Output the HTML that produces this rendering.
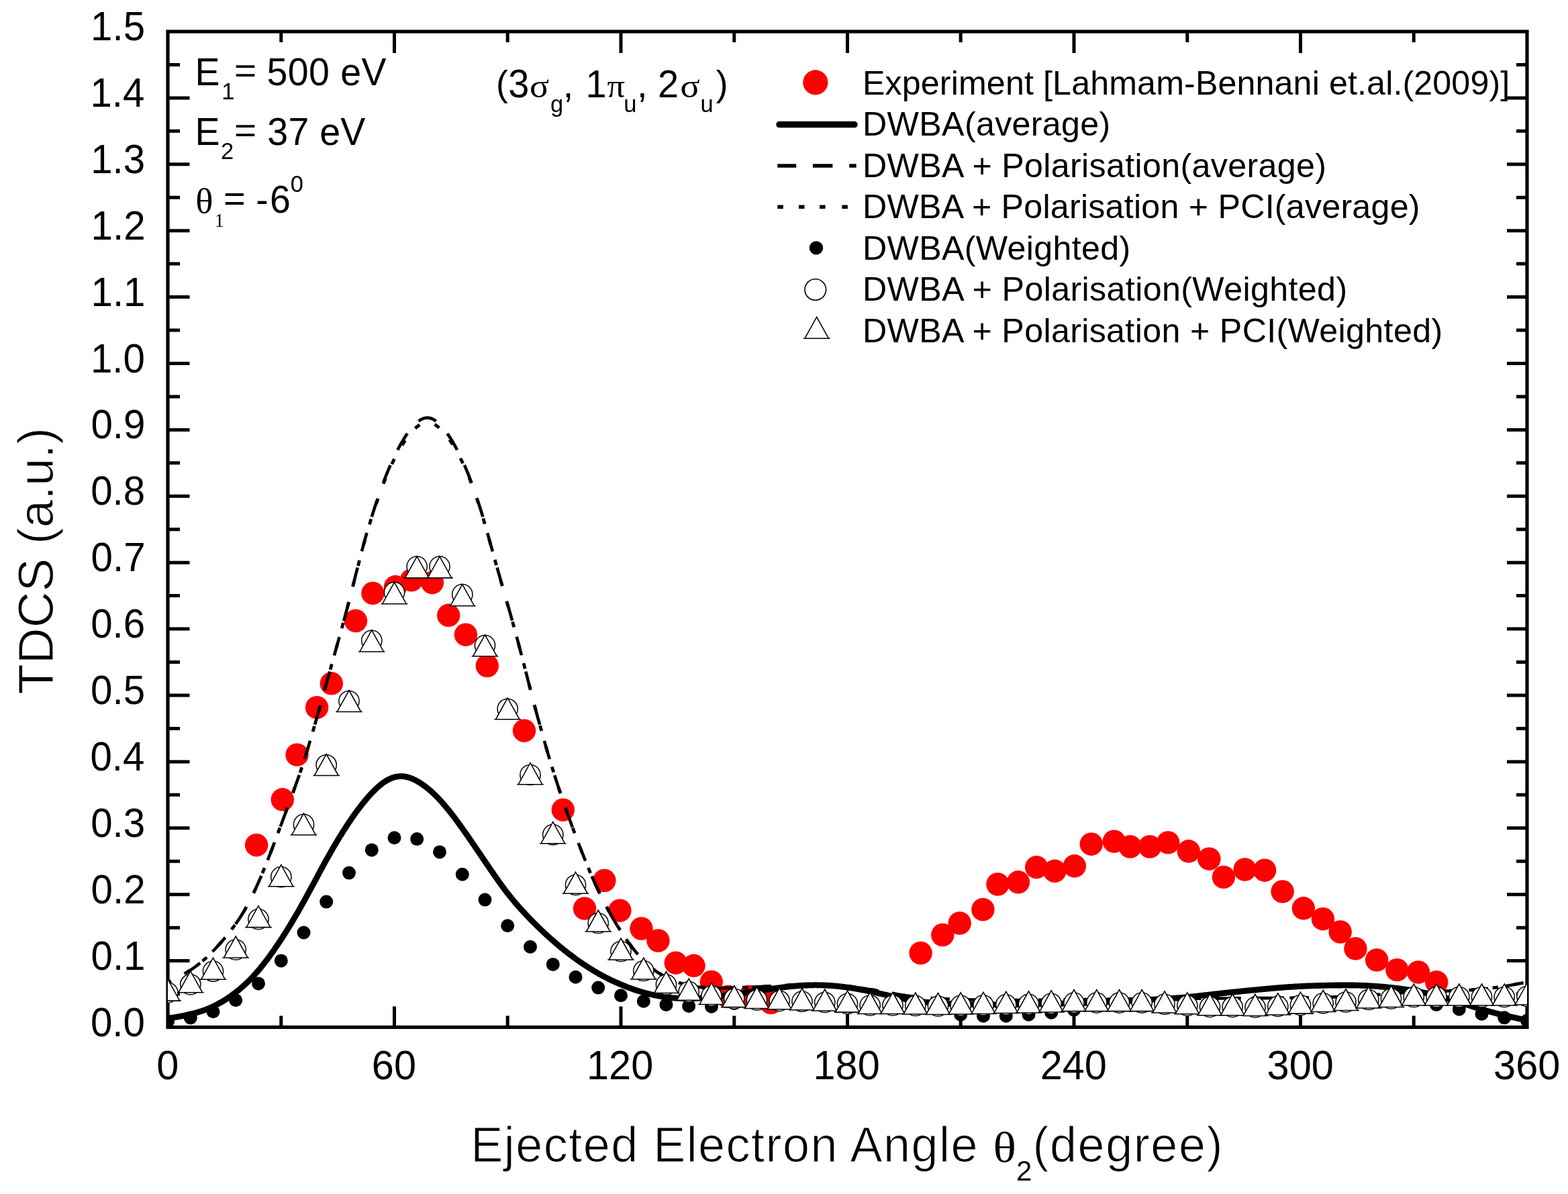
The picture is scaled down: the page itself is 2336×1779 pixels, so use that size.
<!DOCTYPE html><html><head><meta charset="utf-8"><title>TDCS vs ejected electron angle</title><style>html,body{margin:0;padding:0;background:#fff;overflow:hidden;}svg{display:block;}text{font-family:"Liberation Sans",Arial,Helvetica,sans-serif;fill:#000;}.sy{font-family:"Liberation Serif","Times New Roman",serif;}</style></head><body>
<svg width="2336" height="1779" viewBox="0 0 2336 1779">
<rect width="2336" height="1779" fill="#fff"/>
<defs><clipPath id="pc"><rect x="250.0" y="47.0" width="2025.0" height="1483.5"/></clipPath></defs>
<rect x="250.0" y="47.0" width="2025.0" height="1483.5" fill="none" stroke="#000" stroke-width="5.2"/>
<path d="M418.8 1530.5V1513.5M418.8 47V63M587.5 1530.5V1499.5M587.5 47V79M756.2 1530.5V1513.5M756.2 47V63M925 1530.5V1499.5M925 47V79M1093.8 1530.5V1513.5M1093.8 47V63M1262.5 1530.5V1499.5M1262.5 47V79M1431.2 1530.5V1513.5M1431.2 47V63M1600 1530.5V1499.5M1600 47V79M1768.8 1530.5V1513.5M1768.8 47V63M1937.5 1530.5V1499.5M1937.5 47V79M2106.2 1530.5V1513.5M2106.2 47V63M250 1481H268M2275 1481H2259M250 1431.6H282.5M2275 1431.6H2245M250 1382.2H268M2275 1382.2H2259M250 1332.7H282.5M2275 1332.7H2245M250 1283.2H268M2275 1283.2H2259M250 1233.8H282.5M2275 1233.8H2245M250 1184.3H268M2275 1184.3H2259M250 1134.9H282.5M2275 1134.9H2245M250 1085.5H268M2275 1085.5H2259M250 1036H282.5M2275 1036H2245M250 986.5H268M2275 986.5H2259M250 937.1H282.5M2275 937.1H2245M250 887.6H268M2275 887.6H2259M250 838.2H282.5M2275 838.2H2245M250 788.8H268M2275 788.8H2259M250 739.3H282.5M2275 739.3H2245M250 689.8H268M2275 689.8H2259M250 640.4H282.5M2275 640.4H2245M250 590.9H268M2275 590.9H2259M250 541.5H282.5M2275 541.5H2245M250 492H268M2275 492H2259M250 442.6H282.5M2275 442.6H2245M250 393.1H268M2275 393.1H2259M250 343.7H282.5M2275 343.7H2245M250 294.2H268M2275 294.2H2259M250 244.8H282.5M2275 244.8H2245M250 195.3H268M2275 195.3H2259M250 145.9H282.5M2275 145.9H2245M250 96.4H268M2275 96.4H2259" stroke="#000" stroke-width="5" fill="none"/>
<g clip-path="url(#pc)">
<g fill="#fe0000">
<circle cx="382.1" cy="1259.2" r="17.2"/>
<circle cx="420.8" cy="1191.3" r="17.2"/>
<circle cx="442.5" cy="1124.6" r="17.2"/>
<circle cx="472.1" cy="1054.2" r="17.2"/>
<circle cx="493.8" cy="1018.3" r="17.2"/>
<circle cx="530" cy="925" r="17.2"/>
<circle cx="555.4" cy="883.9" r="17.2"/>
<circle cx="589" cy="874.3" r="17.2"/>
<circle cx="613" cy="864.4" r="17.2"/>
<circle cx="644" cy="868" r="17.2"/>
<circle cx="668.2" cy="916.8" r="17.2"/>
<circle cx="693.9" cy="945.7" r="17.2"/>
<circle cx="725.8" cy="992" r="17.2"/>
<circle cx="781" cy="1088.7" r="17.2"/>
<circle cx="838.8" cy="1206.7" r="17.2"/>
<circle cx="871" cy="1353.6" r="17.2"/>
<circle cx="900.4" cy="1312" r="17.2"/>
<circle cx="923.4" cy="1356.7" r="17.2"/>
<circle cx="955.5" cy="1383.5" r="17.2"/>
<circle cx="980.5" cy="1401.5" r="17.2"/>
<circle cx="1006.8" cy="1434.7" r="17.2"/>
<circle cx="1033.5" cy="1438.8" r="17.2"/>
<circle cx="1059.8" cy="1463" r="17.2"/>
<circle cx="1084.3" cy="1485" r="17.2"/>
<circle cx="1117" cy="1485" r="17.2"/>
<circle cx="1148.5" cy="1494" r="17.2"/>
<circle cx="1371.6" cy="1420" r="17.2"/>
<circle cx="1404.3" cy="1393" r="17.2"/>
<circle cx="1429.7" cy="1375.5" r="17.2"/>
<circle cx="1464.4" cy="1355.1" r="17.2"/>
<circle cx="1486.4" cy="1317.5" r="17.2"/>
<circle cx="1517" cy="1314.3" r="17.2"/>
<circle cx="1544.2" cy="1292.1" r="17.2"/>
<circle cx="1571.4" cy="1297.8" r="17.2"/>
<circle cx="1600.8" cy="1290.3" r="17.2"/>
<circle cx="1625.8" cy="1257.7" r="17.2"/>
<circle cx="1659.8" cy="1253.6" r="17.2"/>
<circle cx="1683.6" cy="1261.5" r="17.2"/>
<circle cx="1713" cy="1261.5" r="17.2"/>
<circle cx="1740.2" cy="1255.4" r="17.2"/>
<circle cx="1770.8" cy="1268.3" r="17.2"/>
<circle cx="1801.4" cy="1279.7" r="17.2"/>
<circle cx="1822.9" cy="1306.9" r="17.2"/>
<circle cx="1854.6" cy="1295.5" r="17.2"/>
<circle cx="1884.1" cy="1296.7" r="17.2"/>
<circle cx="1910.6" cy="1328.4" r="17.2"/>
<circle cx="1941.9" cy="1353.3" r="17.2"/>
<circle cx="1970.9" cy="1369.2" r="17.2"/>
<circle cx="1996.7" cy="1388.5" r="17.2"/>
<circle cx="2019.4" cy="1413.4" r="17.2"/>
<circle cx="2051.1" cy="1430.4" r="17.2"/>
<circle cx="2081.3" cy="1445.1" r="17.2"/>
<circle cx="2113" cy="1448.5" r="17.2"/>
<circle cx="2140.2" cy="1463.3" r="17.2"/>
</g>
<path d="M250 1517.4 L251.4 1517.2 L252.8 1517 L254.2 1516.8 L255.6 1516.5 L257 1516.3 L258.4 1516.1 L259.8 1515.8 L261.2 1515.6 L262.7 1515.4 L264.1 1515.1 L265.5 1514.9 L266.9 1514.6 L268.3 1514.4 L269.7 1514.1 L271.1 1513.8 L272.5 1513.6 L273.9 1513.3 L275.3 1513 L276.7 1512.7 L278.1 1512.4 L279.5 1512.1 L280.9 1511.8 L282.3 1511.5 L283.8 1511.1 L285.2 1510.8 L286.6 1510.4 L288 1510.1 L289.4 1509.7 L290.8 1509.3 L292.2 1508.9 L293.6 1508.5 L295 1508.1 L296.4 1507.7 L297.8 1507.2 L299.2 1506.8 L300.6 1506.3 L302 1505.8 L303.4 1505.3 L304.8 1504.8 L306.2 1504.3 L307.7 1503.8 L309.1 1503.2 L310.5 1502.7 L311.9 1502.1 L313.3 1501.5 L314.7 1500.9 L316.1 1500.2 L317.5 1499.6 L318.9 1498.9 L320.3 1498.2 L321.7 1497.5 L323.1 1496.8 L324.5 1496 L325.9 1495.3 L327.3 1494.5 L328.8 1493.7 L330.2 1492.9 L331.6 1492.1 L333 1491.2 L334.4 1490.4 L335.8 1489.5 L337.2 1488.6 L338.6 1487.7 L340 1486.7 L341.4 1485.8 L342.8 1484.8 L344.2 1483.8 L345.6 1482.8 L347 1481.7 L348.4 1480.7 L349.8 1479.6 L351.2 1478.5 L352.7 1477.4 L354.1 1476.3 L355.5 1475.2 L356.9 1474 L358.3 1472.8 L359.7 1471.6 L361.1 1470.4 L362.5 1469.1 L363.9 1467.9 L365.3 1466.6 L366.7 1465.3 L368.1 1463.9 L369.5 1462.6 L370.9 1461.2 L372.3 1459.8 L373.8 1458.3 L375.2 1456.9 L376.6 1455.4 L378 1453.8 L379.4 1452.3 L380.8 1450.7 L382.2 1449.1 L383.6 1447.5 L385 1445.9 L386.4 1444.2 L387.8 1442.5 L389.2 1440.8 L390.6 1439 L392 1437.3 L393.4 1435.5 L394.8 1433.6 L396.2 1431.8 L397.7 1429.9 L399.1 1428.1 L400.5 1426.2 L401.9 1424.2 L403.3 1422.3 L404.7 1420.3 L406.1 1418.4 L407.5 1416.4 L408.9 1414.4 L410.3 1412.3 L411.7 1410.3 L413.1 1408.2 L414.5 1406.1 L415.9 1404 L417.3 1401.9 L418.8 1399.7 L420.2 1397.6 L421.6 1395.4 L423 1393.2 L424.4 1391 L425.8 1388.8 L427.2 1386.5 L428.6 1384.3 L430 1382 L431.4 1379.7 L432.8 1377.4 L434.2 1375.1 L435.6 1372.7 L437 1370.4 L438.4 1368 L439.8 1365.6 L441.2 1363.2 L442.7 1360.8 L444.1 1358.3 L445.5 1355.9 L446.9 1353.4 L448.3 1350.9 L449.7 1348.4 L451.1 1345.9 L452.5 1343.4 L453.9 1340.8 L455.3 1338.3 L456.7 1335.7 L458.1 1333.1 L459.5 1330.5 L460.9 1328 L462.3 1325.4 L463.8 1322.7 L465.2 1320.1 L466.6 1317.5 L468 1314.9 L469.4 1312.3 L470.8 1309.6 L472.2 1307 L473.6 1304.4 L475 1301.7 L476.4 1299.1 L477.8 1296.5 L479.2 1293.9 L480.6 1291.3 L482 1288.8 L483.4 1286.2 L484.8 1283.6 L486.2 1281.1 L487.7 1278.6 L489.1 1276.1 L490.5 1273.6 L491.9 1271.1 L493.3 1268.6 L494.7 1266.2 L496.1 1263.7 L497.5 1261.3 L498.9 1258.9 L500.3 1256.6 L501.7 1254.2 L503.1 1251.9 L504.5 1249.5 L505.9 1247.2 L507.3 1244.9 L508.8 1242.7 L510.2 1240.4 L511.6 1238.2 L513 1236 L514.4 1233.8 L515.8 1231.6 L517.2 1229.5 L518.6 1227.4 L520 1225.2 L521.4 1223.2 L522.8 1221.1 L524.2 1219 L525.6 1217 L527 1215 L528.4 1213 L529.8 1211.1 L531.2 1209.2 L532.7 1207.2 L534.1 1205.4 L535.5 1203.5 L536.9 1201.7 L538.3 1199.8 L539.7 1198.1 L541.1 1196.3 L542.5 1194.6 L543.9 1192.9 L545.3 1191.2 L546.7 1189.5 L548.1 1187.9 L549.5 1186.3 L550.9 1184.7 L552.3 1183.2 L553.8 1181.7 L555.2 1180.2 L556.6 1178.8 L558 1177.4 L559.4 1176 L560.8 1174.7 L562.2 1173.4 L563.6 1172.1 L565 1170.9 L566.4 1169.8 L567.8 1168.6 L569.2 1167.5 L570.6 1166.5 L572 1165.5 L573.4 1164.6 L574.8 1163.7 L576.2 1162.8 L577.7 1162 L579.1 1161.3 L580.5 1160.6 L581.9 1160 L583.3 1159.4 L584.7 1158.9 L586.1 1158.4 L587.5 1158 L588.9 1157.6 L590.3 1157.3 L591.7 1157.1 L593.1 1156.9 L594.5 1156.8 L595.9 1156.7 L597.3 1156.6 L598.8 1156.7 L600.2 1156.7 L601.6 1156.9 L603 1157.1 L604.4 1157.3 L605.8 1157.6 L607.2 1157.9 L608.6 1158.3 L610 1158.8 L611.4 1159.2 L612.8 1159.8 L614.2 1160.3 L615.6 1160.9 L617 1161.6 L618.4 1162.3 L619.8 1163 L621.2 1163.8 L622.7 1164.6 L624.1 1165.4 L625.5 1166.3 L626.9 1167.2 L628.3 1168.1 L629.7 1169.1 L631.1 1170.1 L632.5 1171.1 L633.9 1172.1 L635.3 1173.2 L636.7 1174.3 L638.1 1175.5 L639.5 1176.7 L640.9 1177.9 L642.3 1179.1 L643.8 1180.4 L645.2 1181.7 L646.6 1183 L648 1184.4 L649.4 1185.7 L650.8 1187.1 L652.2 1188.6 L653.6 1190.1 L655 1191.5 L656.4 1193.1 L657.8 1194.6 L659.2 1196.2 L660.6 1197.8 L662 1199.4 L663.4 1201.1 L664.8 1202.8 L666.2 1204.5 L667.7 1206.2 L669.1 1207.9 L670.5 1209.7 L671.9 1211.5 L673.3 1213.3 L674.7 1215.1 L676.1 1217 L677.5 1218.8 L678.9 1220.7 L680.3 1222.6 L681.7 1224.5 L683.1 1226.5 L684.5 1228.4 L685.9 1230.3 L687.3 1232.3 L688.8 1234.3 L690.2 1236.3 L691.6 1238.2 L693 1240.2 L694.4 1242.3 L695.8 1244.3 L697.2 1246.3 L698.6 1248.3 L700 1250.4 L701.4 1252.4 L702.8 1254.5 L704.2 1256.5 L705.6 1258.6 L707 1260.6 L708.4 1262.7 L709.8 1264.7 L711.2 1266.8 L712.7 1268.9 L714.1 1271 L715.5 1273 L716.9 1275.1 L718.3 1277.2 L719.7 1279.2 L721.1 1281.3 L722.5 1283.4 L723.9 1285.4 L725.3 1287.5 L726.7 1289.6 L728.1 1291.6 L729.5 1293.7 L730.9 1295.7 L732.3 1297.8 L733.8 1299.9 L735.2 1301.9 L736.6 1303.9 L738 1306 L739.4 1308 L740.8 1310 L742.2 1312 L743.6 1314 L745 1315.9 L746.4 1317.9 L747.8 1319.8 L749.2 1321.7 L750.6 1323.6 L752 1325.5 L753.4 1327.4 L754.8 1329.2 L756.2 1331 L757.7 1332.8 L759.1 1334.6 L760.5 1336.4 L761.9 1338.1 L763.3 1339.8 L764.7 1341.5 L766.1 1343.2 L767.5 1344.9 L768.9 1346.5 L770.3 1348.1 L771.7 1349.7 L773.1 1351.3 L774.5 1352.9 L775.9 1354.5 L777.3 1356 L778.8 1357.5 L780.2 1359.1 L781.6 1360.6 L783 1362.1 L784.4 1363.6 L785.8 1365 L787.2 1366.5 L788.6 1368 L790 1369.4 L791.4 1370.9 L792.8 1372.3 L794.2 1373.7 L795.6 1375.1 L797 1376.5 L798.4 1377.9 L799.8 1379.3 L801.2 1380.7 L802.7 1382.1 L804.1 1383.4 L805.5 1384.8 L806.9 1386.1 L808.3 1387.4 L809.7 1388.8 L811.1 1390.1 L812.5 1391.4 L813.9 1392.7 L815.3 1394 L816.7 1395.2 L818.1 1396.5 L819.5 1397.8 L820.9 1399 L822.3 1400.3 L823.8 1401.5 L825.2 1402.7 L826.6 1404 L828 1405.2 L829.4 1406.4 L830.8 1407.6 L832.2 1408.8 L833.6 1409.9 L835 1411.1 L836.4 1412.3 L837.8 1413.4 L839.2 1414.5 L840.6 1415.7 L842 1416.8 L843.4 1417.9 L844.8 1419 L846.2 1420.1 L847.7 1421.2 L849.1 1422.2 L850.5 1423.3 L851.9 1424.4 L853.3 1425.4 L854.7 1426.4 L856.1 1427.5 L857.5 1428.5 L858.9 1429.5 L860.3 1430.5 L861.7 1431.5 L863.1 1432.5 L864.5 1433.4 L865.9 1434.4 L867.3 1435.3 L868.8 1436.3 L870.2 1437.2 L871.6 1438.2 L873 1439.1 L874.4 1440 L875.8 1440.9 L877.2 1441.8 L878.6 1442.7 L880 1443.6 L881.4 1444.4 L882.8 1445.3 L884.2 1446.2 L885.6 1447 L887 1447.8 L888.4 1448.7 L889.8 1449.5 L891.2 1450.3 L892.7 1451.1 L894.1 1451.9 L895.5 1452.6 L896.9 1453.4 L898.3 1454.2 L899.7 1454.9 L901.1 1455.6 L902.5 1456.4 L903.9 1457.1 L905.3 1457.8 L906.7 1458.5 L908.1 1459.2 L909.5 1459.9 L910.9 1460.6 L912.3 1461.2 L913.8 1461.9 L915.2 1462.5 L916.6 1463.2 L918 1463.8 L919.4 1464.4 L920.8 1465 L922.2 1465.6 L923.6 1466.2 L925 1466.8 L926.4 1467.4 L927.8 1468 L929.2 1468.6 L930.6 1469.1 L932 1469.7 L933.4 1470.2 L934.8 1470.8 L936.2 1471.3 L937.7 1471.8 L939.1 1472.3 L940.5 1472.9 L941.9 1473.4 L943.3 1473.9 L944.7 1474.3 L946.1 1474.8 L947.5 1475.3 L948.9 1475.8 L950.3 1476.2 L951.7 1476.7 L953.1 1477.1 L954.5 1477.5 L955.9 1477.9 L957.3 1478.4 L958.8 1478.8 L960.2 1479.2 L961.6 1479.5 L963 1479.9 L964.4 1480.3 L965.8 1480.6 L967.2 1481 L968.6 1481.3 L970 1481.7 L971.4 1482 L972.8 1482.3 L974.2 1482.6 L975.6 1482.9 L977 1483.2 L978.4 1483.5 L979.8 1483.7 L981.2 1484 L982.7 1484.3 L984.1 1484.5 L985.5 1484.7 L986.9 1485 L988.3 1485.2 L989.7 1485.4 L991.1 1485.6 L992.5 1485.7 L993.9 1485.9 L995.3 1486.1 L996.7 1486.2 L998.1 1486.4 L999.5 1486.5 L1000.9 1486.7 L1002.3 1486.8 L1003.8 1486.9 L1005.2 1487 L1006.6 1487.1 L1008 1487.2 L1009.4 1487.3 L1010.8 1487.3 L1012.2 1487.4 L1013.6 1487.5 L1015 1487.5 L1016.4 1487.5 L1017.8 1487.6 L1019.2 1487.6 L1020.6 1487.6 L1022 1487.6 L1023.4 1487.6 L1024.8 1487.6 L1026.2 1487.6 L1027.7 1487.6 L1029.1 1487.6 L1030.5 1487.6 L1031.9 1487.6 L1033.3 1487.5 L1034.7 1487.5 L1036.1 1487.4 L1037.5 1487.4 L1038.9 1487.3 L1040.3 1487.3 L1041.7 1487.2 L1043.1 1487.1 L1044.5 1487 L1045.9 1486.9 L1047.3 1486.8 L1048.8 1486.7 L1050.2 1486.6 L1051.6 1486.5 L1053 1486.4 L1054.4 1486.3 L1055.8 1486.2 L1057.2 1486 L1058.6 1485.9 L1060 1485.8 L1061.4 1485.6 L1062.8 1485.5 L1064.2 1485.3 L1065.6 1485.2 L1067 1485 L1068.4 1484.8 L1069.8 1484.6 L1071.2 1484.5 L1072.7 1484.3 L1074.1 1484.1 L1075.5 1483.9 L1076.9 1483.7 L1078.3 1483.5 L1079.7 1483.3 L1081.1 1483.1 L1082.5 1483 L1083.9 1482.8 L1085.3 1482.6 L1086.7 1482.4 L1088.1 1482.1 L1089.5 1481.9 L1090.9 1481.7 L1092.3 1481.5 L1093.8 1481.3 L1095.2 1481.1 L1096.6 1480.9 L1098 1480.7 L1099.4 1480.5 L1100.8 1480.3 L1102.2 1480.1 L1103.6 1479.9 L1105 1479.7 L1106.4 1479.5 L1107.8 1479.3 L1109.2 1479.1 L1110.6 1478.9 L1112 1478.7 L1113.4 1478.5 L1114.8 1478.3 L1116.2 1478.1 L1117.7 1477.9 L1119.1 1477.7 L1120.5 1477.5 L1121.9 1477.3 L1123.3 1477.1 L1124.7 1476.9 L1126.1 1476.7 L1127.5 1476.5 L1128.9 1476.3 L1130.3 1476.1 L1131.7 1475.9 L1133.1 1475.7 L1134.5 1475.5 L1135.9 1475.3 L1137.3 1475.1 L1138.8 1474.9 L1140.2 1474.7 L1141.6 1474.5 L1143 1474.3 L1144.4 1474.1 L1145.8 1473.8 L1147.2 1473.6 L1148.6 1473.4 L1150 1473.2 L1151.4 1473 L1152.8 1472.8 L1154.2 1472.6 L1155.6 1472.4 L1157 1472.2 L1158.4 1472 L1159.8 1471.8 L1161.2 1471.7 L1162.7 1471.5 L1164.1 1471.3 L1165.5 1471.1 L1166.9 1470.9 L1168.3 1470.8 L1169.7 1470.6 L1171.1 1470.4 L1172.5 1470.3 L1173.9 1470.1 L1175.3 1470 L1176.7 1469.8 L1178.1 1469.7 L1179.5 1469.5 L1180.9 1469.4 L1182.3 1469.3 L1183.8 1469.2 L1185.2 1469 L1186.6 1468.9 L1188 1468.8 L1189.4 1468.7 L1190.8 1468.6 L1192.2 1468.5 L1193.6 1468.4 L1195 1468.3 L1196.4 1468.3 L1197.8 1468.2 L1199.2 1468.1 L1200.6 1468.1 L1202 1468 L1203.4 1468 L1204.8 1467.9 L1206.2 1467.9 L1207.7 1467.8 L1209.1 1467.8 L1210.5 1467.8 L1211.9 1467.8 L1213.3 1467.7 L1214.7 1467.7 L1216.1 1467.7 L1217.5 1467.8 L1218.9 1467.8 L1220.3 1467.8 L1221.7 1467.8 L1223.1 1467.8 L1224.5 1467.9 L1225.9 1467.9 L1227.3 1468 L1228.8 1468 L1230.2 1468.1 L1231.6 1468.2 L1233 1468.3 L1234.4 1468.3 L1235.8 1468.4 L1237.2 1468.5 L1238.6 1468.6 L1240 1468.7 L1241.4 1468.8 L1242.8 1469 L1244.2 1469.1 L1245.6 1469.2 L1247 1469.3 L1248.4 1469.5 L1249.8 1469.6 L1251.2 1469.8 L1252.7 1469.9 L1254.1 1470.1 L1255.5 1470.3 L1256.9 1470.4 L1258.3 1470.6 L1259.7 1470.8 L1261.1 1471 L1262.5 1471.2 L1263.9 1471.4 L1265.3 1471.6 L1266.7 1471.8 L1268.1 1472 L1269.5 1472.2 L1270.9 1472.5 L1272.3 1472.7 L1273.8 1472.9 L1275.2 1473.2 L1276.6 1473.4 L1278 1473.6 L1279.4 1473.9 L1280.8 1474.1 L1282.2 1474.4 L1283.6 1474.6 L1285 1474.9 L1286.4 1475.2 L1287.8 1475.5 L1289.2 1475.7 L1290.6 1476 L1292 1476.3 L1293.4 1476.6 L1294.8 1476.9 L1296.2 1477.1 L1297.7 1477.4 L1299.1 1477.7 L1300.5 1478 L1301.9 1478.3 L1303.3 1478.6 L1304.7 1478.9 L1306.1 1479.3 L1307.5 1479.6 L1308.9 1479.9 L1310.3 1480.2 L1311.7 1480.5 L1313.1 1480.8 L1314.5 1481.1 L1315.9 1481.5 L1317.3 1481.8 L1318.8 1482.1 L1320.2 1482.4 L1321.6 1482.7 L1323 1483.1 L1324.4 1483.4 L1325.8 1483.7 L1327.2 1484 L1328.6 1484.3 L1330 1484.7 L1331.4 1485 L1332.8 1485.3 L1334.2 1485.6 L1335.6 1485.9 L1337 1486.2 L1338.4 1486.5 L1339.8 1486.8 L1341.2 1487.1 L1342.7 1487.4 L1344.1 1487.7 L1345.5 1488 L1346.9 1488.3 L1348.3 1488.6 L1349.7 1488.9 L1351.1 1489.1 L1352.5 1489.4 L1353.9 1489.7 L1355.3 1489.9 L1356.7 1490.1 L1358.1 1490.4 L1359.5 1490.6 L1360.9 1490.8 L1362.3 1491.1 L1363.8 1491.3 L1365.2 1491.5 L1366.6 1491.7 L1368 1491.8 L1369.4 1492 L1370.8 1492.2 L1372.2 1492.4 L1373.6 1492.5 L1375 1492.7 L1376.4 1492.9 L1377.8 1493 L1379.2 1493.2 L1380.6 1493.3 L1382 1493.4 L1383.4 1493.6 L1384.8 1493.7 L1386.2 1493.8 L1387.7 1493.9 L1389.1 1494.1 L1390.5 1494.2 L1391.9 1494.3 L1393.3 1494.4 L1394.7 1494.5 L1396.1 1494.6 L1397.5 1494.7 L1398.9 1494.8 L1400.3 1494.9 L1401.7 1495 L1403.1 1495 L1404.5 1495.1 L1405.9 1495.2 L1407.3 1495.3 L1408.8 1495.4 L1410.2 1495.4 L1411.6 1495.5 L1413 1495.6 L1414.4 1495.6 L1415.8 1495.7 L1417.2 1495.8 L1418.6 1495.8 L1420 1495.9 L1421.4 1496 L1422.8 1496 L1424.2 1496.1 L1425.6 1496.1 L1427 1496.2 L1428.4 1496.2 L1429.8 1496.3 L1431.2 1496.3 L1432.7 1496.4 L1434.1 1496.4 L1435.5 1496.4 L1436.9 1496.5 L1438.3 1496.5 L1439.7 1496.6 L1441.1 1496.6 L1442.5 1496.6 L1443.9 1496.6 L1445.3 1496.7 L1446.7 1496.7 L1448.1 1496.7 L1449.5 1496.7 L1450.9 1496.8 L1452.3 1496.8 L1453.8 1496.8 L1455.2 1496.8 L1456.6 1496.8 L1458 1496.9 L1459.4 1496.9 L1460.8 1496.9 L1462.2 1496.9 L1463.6 1496.9 L1465 1496.9 L1466.4 1496.9 L1467.8 1496.9 L1469.2 1496.9 L1470.6 1496.9 L1472 1496.9 L1473.4 1496.9 L1474.8 1496.9 L1476.2 1496.9 L1477.7 1496.9 L1479.1 1496.9 L1480.5 1496.9 L1481.9 1496.9 L1483.3 1496.9 L1484.7 1496.9 L1486.1 1496.9 L1487.5 1496.8 L1488.9 1496.8 L1490.3 1496.8 L1491.7 1496.8 L1493.1 1496.8 L1494.5 1496.8 L1495.9 1496.8 L1497.3 1496.7 L1498.8 1496.7 L1500.2 1496.7 L1501.6 1496.7 L1503 1496.7 L1504.4 1496.6 L1505.8 1496.6 L1507.2 1496.6 L1508.6 1496.6 L1510 1496.6 L1511.4 1496.5 L1512.8 1496.5 L1514.2 1496.5 L1515.6 1496.5 L1517 1496.4 L1518.4 1496.4 L1519.8 1496.4 L1521.2 1496.4 L1522.7 1496.3 L1524.1 1496.3 L1525.5 1496.3 L1526.9 1496.3 L1528.3 1496.2 L1529.7 1496.2 L1531.1 1496.2 L1532.5 1496.2 L1533.9 1496.1 L1535.3 1496.1 L1536.7 1496.1 L1538.1 1496 L1539.5 1496 L1540.9 1496 L1542.3 1496 L1543.8 1495.9 L1545.2 1495.9 L1546.6 1495.9 L1548 1495.9 L1549.4 1495.8 L1550.8 1495.8 L1552.2 1495.8 L1553.6 1495.8 L1555 1495.7 L1556.4 1495.7 L1557.8 1495.7 L1559.2 1495.7 L1560.6 1495.6 L1562 1495.6 L1563.4 1495.6 L1564.8 1495.5 L1566.2 1495.5 L1567.7 1495.5 L1569.1 1495.5 L1570.5 1495.4 L1571.9 1495.4 L1573.3 1495.4 L1574.7 1495.4 L1576.1 1495.3 L1577.5 1495.3 L1578.9 1495.3 L1580.3 1495.2 L1581.7 1495.2 L1583.1 1495.2 L1584.5 1495.2 L1585.9 1495.1 L1587.3 1495.1 L1588.8 1495.1 L1590.2 1495 L1591.6 1495 L1593 1495 L1594.4 1494.9 L1595.8 1494.9 L1597.2 1494.8 L1598.6 1494.8 L1600 1494.8 L1601.4 1494.7 L1602.8 1494.7 L1604.2 1494.7 L1605.6 1494.6 L1607 1494.6 L1608.4 1494.5 L1609.8 1494.5 L1611.2 1494.4 L1612.7 1494.4 L1614.1 1494.4 L1615.5 1494.3 L1616.9 1494.3 L1618.3 1494.2 L1619.7 1494.2 L1621.1 1494.1 L1622.5 1494.1 L1623.9 1494 L1625.3 1494 L1626.7 1493.9 L1628.1 1493.8 L1629.5 1493.8 L1630.9 1493.7 L1632.3 1493.7 L1633.8 1493.6 L1635.2 1493.5 L1636.6 1493.5 L1638 1493.4 L1639.4 1493.4 L1640.8 1493.3 L1642.2 1493.2 L1643.6 1493.2 L1645 1493.1 L1646.4 1493 L1647.8 1493 L1649.2 1492.9 L1650.6 1492.8 L1652 1492.7 L1653.4 1492.7 L1654.8 1492.6 L1656.2 1492.5 L1657.7 1492.4 L1659.1 1492.4 L1660.5 1492.3 L1661.9 1492.2 L1663.3 1492.1 L1664.7 1492.1 L1666.1 1492 L1667.5 1491.9 L1668.9 1491.8 L1670.3 1491.8 L1671.7 1491.7 L1673.1 1491.6 L1674.5 1491.5 L1675.9 1491.5 L1677.3 1491.4 L1678.8 1491.3 L1680.2 1491.2 L1681.6 1491.1 L1683 1491.1 L1684.4 1491 L1685.8 1490.9 L1687.2 1490.8 L1688.6 1490.8 L1690 1490.7 L1691.4 1490.6 L1692.8 1490.5 L1694.2 1490.4 L1695.6 1490.4 L1697 1490.3 L1698.4 1490.2 L1699.8 1490.1 L1701.2 1490.1 L1702.7 1490 L1704.1 1489.9 L1705.5 1489.9 L1706.9 1489.8 L1708.3 1489.7 L1709.7 1489.6 L1711.1 1489.6 L1712.5 1489.5 L1713.9 1489.4 L1715.3 1489.4 L1716.7 1489.3 L1718.1 1489.2 L1719.5 1489.1 L1720.9 1489.1 L1722.3 1489 L1723.8 1488.9 L1725.2 1488.8 L1726.6 1488.8 L1728 1488.7 L1729.4 1488.6 L1730.8 1488.5 L1732.2 1488.4 L1733.6 1488.4 L1735 1488.3 L1736.4 1488.2 L1737.8 1488.1 L1739.2 1488 L1740.6 1487.9 L1742 1487.8 L1743.4 1487.7 L1744.8 1487.6 L1746.2 1487.5 L1747.7 1487.4 L1749.1 1487.3 L1750.5 1487.2 L1751.9 1487.1 L1753.3 1487 L1754.7 1486.9 L1756.1 1486.8 L1757.5 1486.7 L1758.9 1486.6 L1760.3 1486.4 L1761.7 1486.3 L1763.1 1486.2 L1764.5 1486.1 L1765.9 1485.9 L1767.3 1485.8 L1768.8 1485.7 L1770.2 1485.5 L1771.6 1485.4 L1773 1485.2 L1774.4 1485.1 L1775.8 1484.9 L1777.2 1484.8 L1778.6 1484.6 L1780 1484.5 L1781.4 1484.3 L1782.8 1484.2 L1784.2 1484 L1785.6 1483.9 L1787 1483.7 L1788.4 1483.6 L1789.8 1483.4 L1791.2 1483.2 L1792.7 1483.1 L1794.1 1482.9 L1795.5 1482.7 L1796.9 1482.6 L1798.3 1482.4 L1799.7 1482.3 L1801.1 1482.1 L1802.5 1481.9 L1803.9 1481.8 L1805.3 1481.6 L1806.7 1481.5 L1808.1 1481.3 L1809.5 1481.1 L1810.9 1481 L1812.3 1480.8 L1813.8 1480.7 L1815.2 1480.5 L1816.6 1480.3 L1818 1480.2 L1819.4 1480 L1820.8 1479.9 L1822.2 1479.7 L1823.6 1479.6 L1825 1479.4 L1826.4 1479.3 L1827.8 1479.1 L1829.2 1479 L1830.6 1478.8 L1832 1478.7 L1833.4 1478.5 L1834.8 1478.4 L1836.2 1478.2 L1837.7 1478.1 L1839.1 1478 L1840.5 1477.8 L1841.9 1477.7 L1843.3 1477.5 L1844.7 1477.4 L1846.1 1477.3 L1847.5 1477.1 L1848.9 1477 L1850.3 1476.8 L1851.7 1476.7 L1853.1 1476.6 L1854.5 1476.4 L1855.9 1476.3 L1857.3 1476.1 L1858.8 1476 L1860.2 1475.9 L1861.6 1475.7 L1863 1475.6 L1864.4 1475.5 L1865.8 1475.3 L1867.2 1475.2 L1868.6 1475.1 L1870 1474.9 L1871.4 1474.8 L1872.8 1474.7 L1874.2 1474.5 L1875.6 1474.4 L1877 1474.2 L1878.4 1474.1 L1879.8 1474 L1881.2 1473.8 L1882.7 1473.7 L1884.1 1473.6 L1885.5 1473.4 L1886.9 1473.3 L1888.3 1473.2 L1889.7 1473.1 L1891.1 1472.9 L1892.5 1472.8 L1893.9 1472.7 L1895.3 1472.6 L1896.7 1472.4 L1898.1 1472.3 L1899.5 1472.2 L1900.9 1472.1 L1902.3 1471.9 L1903.8 1471.8 L1905.2 1471.7 L1906.6 1471.6 L1908 1471.5 L1909.4 1471.4 L1910.8 1471.3 L1912.2 1471.2 L1913.6 1471.1 L1915 1470.9 L1916.4 1470.8 L1917.8 1470.7 L1919.2 1470.6 L1920.6 1470.5 L1922 1470.5 L1923.4 1470.4 L1924.8 1470.3 L1926.2 1470.2 L1927.7 1470.1 L1929.1 1470 L1930.5 1469.9 L1931.9 1469.9 L1933.3 1469.8 L1934.7 1469.7 L1936.1 1469.6 L1937.5 1469.6 L1938.9 1469.5 L1940.3 1469.4 L1941.7 1469.4 L1943.1 1469.3 L1944.5 1469.2 L1945.9 1469.2 L1947.3 1469.1 L1948.8 1469 L1950.2 1469 L1951.6 1468.9 L1953 1468.9 L1954.4 1468.8 L1955.8 1468.8 L1957.2 1468.7 L1958.6 1468.7 L1960 1468.7 L1961.4 1468.6 L1962.8 1468.6 L1964.2 1468.5 L1965.6 1468.5 L1967 1468.5 L1968.4 1468.4 L1969.8 1468.4 L1971.2 1468.3 L1972.7 1468.3 L1974.1 1468.3 L1975.5 1468.3 L1976.9 1468.2 L1978.3 1468.2 L1979.7 1468.2 L1981.1 1468.1 L1982.5 1468.1 L1983.9 1468.1 L1985.3 1468.1 L1986.7 1468.1 L1988.1 1468 L1989.5 1468 L1990.9 1468 L1992.3 1468 L1993.8 1468 L1995.2 1468 L1996.6 1468 L1998 1468 L1999.4 1467.9 L2000.8 1467.9 L2002.2 1467.9 L2003.6 1467.9 L2005 1467.9 L2006.4 1467.9 L2007.8 1467.9 L2009.2 1468 L2010.6 1468 L2012 1468 L2013.4 1468 L2014.8 1468 L2016.2 1468 L2017.7 1468 L2019.1 1468.1 L2020.5 1468.1 L2021.9 1468.1 L2023.3 1468.2 L2024.7 1468.2 L2026.1 1468.2 L2027.5 1468.3 L2028.9 1468.3 L2030.3 1468.4 L2031.7 1468.4 L2033.1 1468.5 L2034.5 1468.6 L2035.9 1468.6 L2037.3 1468.7 L2038.8 1468.8 L2040.2 1468.8 L2041.6 1468.9 L2043 1469 L2044.4 1469.1 L2045.8 1469.2 L2047.2 1469.3 L2048.6 1469.4 L2050 1469.5 L2051.4 1469.6 L2052.8 1469.7 L2054.2 1469.8 L2055.6 1469.9 L2057 1470 L2058.4 1470.1 L2059.8 1470.2 L2061.2 1470.4 L2062.7 1470.5 L2064.1 1470.6 L2065.5 1470.8 L2066.9 1470.9 L2068.3 1471 L2069.7 1471.2 L2071.1 1471.3 L2072.5 1471.5 L2073.9 1471.6 L2075.3 1471.8 L2076.7 1471.9 L2078.1 1472.1 L2079.5 1472.3 L2080.9 1472.4 L2082.3 1472.6 L2083.8 1472.8 L2085.2 1473 L2086.6 1473.1 L2088 1473.3 L2089.4 1473.5 L2090.8 1473.7 L2092.2 1473.9 L2093.6 1474.1 L2095 1474.3 L2096.4 1474.5 L2097.8 1474.7 L2099.2 1475 L2100.6 1475.2 L2102 1475.4 L2103.4 1475.6 L2104.8 1475.9 L2106.2 1476.1 L2107.7 1476.4 L2109.1 1476.6 L2110.5 1476.9 L2111.9 1477.1 L2113.3 1477.4 L2114.7 1477.7 L2116.1 1477.9 L2117.5 1478.2 L2118.9 1478.5 L2120.3 1478.8 L2121.7 1479.1 L2123.1 1479.4 L2124.5 1479.7 L2125.9 1480 L2127.3 1480.3 L2128.8 1480.6 L2130.2 1480.9 L2131.6 1481.2 L2133 1481.6 L2134.4 1481.9 L2135.8 1482.2 L2137.2 1482.6 L2138.6 1482.9 L2140 1483.3 L2141.4 1483.6 L2142.8 1484 L2144.2 1484.4 L2145.6 1484.8 L2147 1485.1 L2148.4 1485.5 L2149.8 1485.9 L2151.2 1486.3 L2152.7 1486.7 L2154.1 1487.1 L2155.5 1487.5 L2156.9 1488 L2158.3 1488.4 L2159.7 1488.8 L2161.1 1489.2 L2162.5 1489.7 L2163.9 1490.1 L2165.3 1490.5 L2166.7 1491 L2168.1 1491.4 L2169.5 1491.9 L2170.9 1492.3 L2172.3 1492.8 L2173.8 1493.2 L2175.2 1493.7 L2176.6 1494.1 L2178 1494.6 L2179.4 1495 L2180.8 1495.5 L2182.2 1496 L2183.6 1496.4 L2185 1496.9 L2186.4 1497.3 L2187.8 1497.8 L2189.2 1498.2 L2190.6 1498.7 L2192 1499.1 L2193.4 1499.6 L2194.8 1500 L2196.2 1500.4 L2197.7 1500.9 L2199.1 1501.3 L2200.5 1501.7 L2201.9 1502.2 L2203.3 1502.6 L2204.7 1503 L2206.1 1503.4 L2207.5 1503.9 L2208.9 1504.3 L2210.3 1504.7 L2211.7 1505.1 L2213.1 1505.5 L2214.5 1505.9 L2215.9 1506.3 L2217.3 1506.7 L2218.8 1507.1 L2220.2 1507.5 L2221.6 1507.8 L2223 1508.2 L2224.4 1508.6 L2225.8 1509 L2227.2 1509.3 L2228.6 1509.7 L2230 1510.1 L2231.4 1510.4 L2232.8 1510.8 L2234.2 1511.1 L2235.6 1511.5 L2237 1511.8 L2238.4 1512.1 L2239.8 1512.5 L2241.2 1512.8 L2242.7 1513.1 L2244.1 1513.5 L2245.5 1513.8 L2246.9 1514.1 L2248.3 1514.4 L2249.7 1514.8 L2251.1 1515.1 L2252.5 1515.4 L2253.9 1515.7 L2255.3 1516 L2256.7 1516.3 L2258.1 1516.6 L2259.5 1516.9 L2260.9 1517.3 L2262.3 1517.6 L2263.8 1517.9 L2265.2 1518.2 L2266.6 1518.5 L2268 1518.8 L2269.4 1519.1 L2270.8 1519.4 L2272.2 1519.7 L2273.6 1520 L2275 1520.2" fill="none" stroke="#000" stroke-width="8.8" stroke-linejoin="round"/>
<path d="M250 1464 L251.4 1463.3 L252.8 1462.7 L254.2 1462 L255.6 1461.3 L257 1460.6 L258.4 1459.9 L259.8 1459.2 L261.2 1458.5 L262.7 1457.7 L264.1 1457 L265.5 1456.2 L266.9 1455.5 L268.3 1454.7 L269.7 1453.9 L271.1 1453.1 L272.5 1452.3 L273.9 1451.5 L275.3 1450.6 L276.7 1449.8 L278.1 1448.9 L279.5 1448 L280.9 1447.2 L282.3 1446.3 L283.8 1445.3 L285.2 1444.4 L286.6 1443.5 L288 1442.5 L289.4 1441.5 L290.8 1440.5 L292.2 1439.5 L293.6 1438.4 L295 1437.3 L296.4 1436.3 L297.8 1435.1 L299.2 1434 L300.6 1432.9 L302 1431.7 L303.4 1430.5 L304.8 1429.2 L306.2 1428 L307.7 1426.7 L309.1 1425.3 L310.5 1424 L311.9 1422.6 L313.3 1421.3 L314.7 1419.8 L316.1 1418.4 L317.5 1417 L318.9 1415.5 L320.3 1414 L321.7 1412.5 L323.1 1411 L324.5 1409.4 L325.9 1407.9 L327.3 1406.3 L328.8 1404.7 L330.2 1403.1 L331.6 1401.5 L333 1399.8 L334.4 1398.2 L335.8 1396.5 L337.2 1394.8 L338.6 1393.1 L340 1391.3 L341.4 1389.5 L342.8 1387.7 L344.2 1385.9 L345.6 1384 L347 1382.2 L348.4 1380.3 L349.8 1378.3 L351.2 1376.4 L352.7 1374.4 L354.1 1372.4 L355.5 1370.3 L356.9 1368.2 L358.3 1366 L359.7 1363.8 L361.1 1361.6 L362.5 1359.3 L363.9 1356.9 L365.3 1354.5 L366.7 1352 L368.1 1349.5 L369.5 1346.9 L370.9 1344.2 L372.3 1341.5 L373.8 1338.8 L375.2 1335.9 L376.6 1333.1 L378 1330.1 L379.4 1327.2 L380.8 1324.1 L382.2 1321.1 L383.6 1317.9 L385 1314.8 L386.4 1311.6 L387.8 1308.3 L389.2 1305 L390.6 1301.6 L392 1298.3 L393.4 1294.8 L394.8 1291.4 L396.2 1287.9 L397.7 1284.3 L399.1 1280.8 L400.5 1277.2 L401.9 1273.6 L403.3 1269.9 L404.7 1266.3 L406.1 1262.6 L407.5 1258.9 L408.9 1255.2 L410.3 1251.4 L411.7 1247.7 L413.1 1243.9 L414.5 1240.1 L415.9 1236.4 L417.3 1232.6 L418.8 1228.8 L420.2 1225 L421.6 1221.2 L423 1217.4 L424.4 1213.7 L425.8 1209.9 L427.2 1206.1 L428.6 1202.3 L430 1198.6 L431.4 1194.8 L432.8 1191 L434.2 1187.2 L435.6 1183.3 L437 1179.5 L438.4 1175.6 L439.8 1171.7 L441.2 1167.8 L442.7 1163.8 L444.1 1159.8 L445.5 1155.7 L446.9 1151.6 L448.3 1147.4 L449.7 1143.2 L451.1 1138.9 L452.5 1134.6 L453.9 1130.2 L455.3 1125.7 L456.7 1121.2 L458.1 1116.6 L459.5 1112 L460.9 1107.3 L462.3 1102.6 L463.8 1097.9 L465.2 1093.1 L466.6 1088.3 L468 1083.4 L469.4 1078.5 L470.8 1073.6 L472.2 1068.7 L473.6 1063.7 L475 1058.8 L476.4 1053.8 L477.8 1048.7 L479.2 1043.7 L480.6 1038.7 L482 1033.6 L483.4 1028.6 L484.8 1023.5 L486.2 1018.5 L487.7 1013.4 L489.1 1008.4 L490.5 1003.3 L491.9 998.3 L493.3 993.2 L494.7 988.2 L496.1 983.2 L497.5 978.2 L498.9 973.1 L500.3 968.1 L501.7 963.1 L503.1 958 L504.5 953 L505.9 947.9 L507.3 942.8 L508.8 937.7 L510.2 932.5 L511.6 927.4 L513 922.2 L514.4 916.9 L515.8 911.7 L517.2 906.4 L518.6 901 L520 895.7 L521.4 890.3 L522.8 884.8 L524.2 879.3 L525.6 873.8 L527 868.2 L528.4 862.6 L529.8 857 L531.2 851.4 L532.7 845.8 L534.1 840.2 L535.5 834.7 L536.9 829.3 L538.3 823.9 L539.7 818.6 L541.1 813.3 L542.5 808.2 L543.9 803.1 L545.3 798.1 L546.7 793.2 L548.1 788.4 L549.5 783.7 L550.9 779 L552.3 774.4 L553.8 769.9 L555.2 765.5 L556.6 761.1 L558 756.8 L559.4 752.6 L560.8 748.4 L562.2 744.3 L563.6 740.2 L565 736.2 L566.4 732.2 L567.8 728.3 L569.2 724.4 L570.6 720.5 L572 716.8 L573.4 713.1 L574.8 709.5 L576.2 705.9 L577.7 702.4 L579.1 699 L580.5 695.7 L581.9 692.4 L583.3 689.2 L584.7 686.1 L586.1 683.1 L587.5 680.1 L588.9 677.2 L590.3 674.4 L591.7 671.6 L593.1 668.9 L594.5 666.3 L595.9 663.7 L597.3 661.2 L598.8 658.8 L600.2 656.4 L601.6 654.1 L603 651.8 L604.4 649.6 L605.8 647.5 L607.2 645.5 L608.6 643.5 L610 641.6 L611.4 639.8 L612.8 638 L614.2 636.3 L615.6 634.7 L617 633.2 L618.4 631.8 L619.8 630.5 L621.2 629.3 L622.7 628.1 L624.1 627.1 L625.5 626.1 L626.9 625.3 L628.3 624.5 L629.7 623.9 L631.1 623.4 L632.5 623 L633.9 622.7 L635.3 622.5 L636.7 622.5 L638.1 622.5 L639.5 622.7 L640.9 623 L642.3 623.5 L643.8 624 L645.2 624.7 L646.6 625.4 L648 626.3 L649.4 627.3 L650.8 628.4 L652.2 629.5 L653.6 630.8 L655 632.2 L656.4 633.6 L657.8 635.2 L659.2 636.8 L660.6 638.5 L662 640.2 L663.4 642 L664.8 643.9 L666.2 645.9 L667.7 647.9 L669.1 649.9 L670.5 652.1 L671.9 654.3 L673.3 656.5 L674.7 658.9 L676.1 661.3 L677.5 663.7 L678.9 666.3 L680.3 668.9 L681.7 671.5 L683.1 674.3 L684.5 677.1 L685.9 680 L687.3 682.9 L688.8 685.9 L690.2 689 L691.6 692.2 L693 695.4 L694.4 698.8 L695.8 702.1 L697.2 705.6 L698.6 709.1 L700 712.8 L701.4 716.5 L702.8 720.2 L704.2 724.1 L705.6 728 L707 732 L708.4 736 L709.8 740.2 L711.2 744.4 L712.7 748.7 L714.1 753.1 L715.5 757.5 L716.9 762 L718.3 766.7 L719.7 771.4 L721.1 776.1 L722.5 781 L723.9 785.9 L725.3 790.9 L726.7 795.9 L728.1 800.9 L729.5 806 L730.9 811 L732.3 816.1 L733.8 821.2 L735.2 826.3 L736.6 831.4 L738 836.4 L739.4 841.4 L740.8 846.4 L742.2 851.4 L743.6 856.4 L745 861.4 L746.4 866.3 L747.8 871.2 L749.2 876.1 L750.6 881 L752 885.9 L753.4 890.8 L754.8 895.7 L756.2 900.6 L757.7 905.5 L759.1 910.4 L760.5 915.3 L761.9 920.3 L763.3 925.3 L764.7 930.3 L766.1 935.4 L767.5 940.5 L768.9 945.7 L770.3 950.9 L771.7 956.2 L773.1 961.5 L774.5 966.9 L775.9 972.2 L777.3 977.6 L778.8 983.1 L780.2 988.5 L781.6 994 L783 999.4 L784.4 1004.9 L785.8 1010.4 L787.2 1015.8 L788.6 1021.3 L790 1026.7 L791.4 1032.2 L792.8 1037.6 L794.2 1042.9 L795.6 1048.3 L797 1053.6 L798.4 1058.8 L799.8 1064.1 L801.2 1069.3 L802.7 1074.5 L804.1 1079.6 L805.5 1084.7 L806.9 1089.7 L808.3 1094.8 L809.7 1099.8 L811.1 1104.7 L812.5 1109.6 L813.9 1114.5 L815.3 1119.3 L816.7 1124.1 L818.1 1128.8 L819.5 1133.5 L820.9 1138.2 L822.3 1142.8 L823.8 1147.3 L825.2 1151.8 L826.6 1156.3 L828 1160.7 L829.4 1165.1 L830.8 1169.4 L832.2 1173.7 L833.6 1177.9 L835 1182.1 L836.4 1186.3 L837.8 1190.4 L839.2 1194.5 L840.6 1198.6 L842 1202.6 L843.4 1206.6 L844.8 1210.6 L846.2 1214.5 L847.7 1218.4 L849.1 1222.3 L850.5 1226.1 L851.9 1230 L853.3 1233.8 L854.7 1237.5 L856.1 1241.3 L857.5 1245 L858.9 1248.7 L860.3 1252.4 L861.7 1256.1 L863.1 1259.8 L864.5 1263.4 L865.9 1267 L867.3 1270.6 L868.8 1274.1 L870.2 1277.7 L871.6 1281.2 L873 1284.6 L874.4 1288.1 L875.8 1291.5 L877.2 1294.9 L878.6 1298.2 L880 1301.5 L881.4 1304.8 L882.8 1308 L884.2 1311.2 L885.6 1314.3 L887 1317.4 L888.4 1320.5 L889.8 1323.5 L891.2 1326.5 L892.7 1329.5 L894.1 1332.4 L895.5 1335.2 L896.9 1338.1 L898.3 1340.9 L899.7 1343.6 L901.1 1346.4 L902.5 1349.1 L903.9 1351.7 L905.3 1354.3 L906.7 1356.9 L908.1 1359.5 L909.5 1362 L910.9 1364.5 L912.3 1367 L913.8 1369.4 L915.2 1371.8 L916.6 1374.1 L918 1376.5 L919.4 1378.8 L920.8 1381.1 L922.2 1383.3 L923.6 1385.5 L925 1387.7 L926.4 1389.9 L927.8 1392 L929.2 1394.1 L930.6 1396.2 L932 1398.2 L933.4 1400.2 L934.8 1402.2 L936.2 1404.1 L937.7 1406 L939.1 1407.9 L940.5 1409.8 L941.9 1411.6 L943.3 1413.4 L944.7 1415.2 L946.1 1416.9 L947.5 1418.7 L948.9 1420.3 L950.3 1422 L951.7 1423.6 L953.1 1425.1 L954.5 1426.7 L955.9 1428.2 L957.3 1429.7 L958.8 1431.1 L960.2 1432.5 L961.6 1433.9 L963 1435.2 L964.4 1436.5 L965.8 1437.8 L967.2 1439 L968.6 1440.2 L970 1441.4 L971.4 1442.5 L972.8 1443.6 L974.2 1444.7 L975.6 1445.7 L977 1446.8 L978.4 1447.8 L979.8 1448.7 L981.2 1449.6 L982.7 1450.6 L984.1 1451.4 L985.5 1452.3 L986.9 1453.1 L988.3 1453.9 L989.7 1454.7 L991.1 1455.5 L992.5 1456.2 L993.9 1456.9 L995.3 1457.6 L996.7 1458.3 L998.1 1458.9 L999.5 1459.6 L1000.9 1460.2 L1002.3 1460.8 L1003.8 1461.3 L1005.2 1461.9 L1006.6 1462.4 L1008 1462.9 L1009.4 1463.4 L1010.8 1463.9 L1012.2 1464.4 L1013.6 1464.8 L1015 1465.3 L1016.4 1465.7 L1017.8 1466.1 L1019.2 1466.5 L1020.6 1466.8 L1022 1467.2 L1023.4 1467.5 L1024.8 1467.8 L1026.2 1468.2 L1027.7 1468.5 L1029.1 1468.7 L1030.5 1469 L1031.9 1469.3 L1033.3 1469.5 L1034.7 1469.7 L1036.1 1470 L1037.5 1470.2 L1038.9 1470.3 L1040.3 1470.5 L1041.7 1470.7 L1043.1 1470.9 L1044.5 1471 L1045.9 1471.2 L1047.3 1471.3 L1048.8 1471.4 L1050.2 1471.5 L1051.6 1471.6 L1053 1471.7 L1054.4 1471.8 L1055.8 1471.9 L1057.2 1471.9 L1058.6 1472 L1060 1472 L1061.4 1472.1 L1062.8 1472.1 L1064.2 1472.1 L1065.6 1472.2 L1067 1472.2 L1068.4 1472.2 L1069.8 1472.2 L1071.2 1472.2 L1072.7 1472.2 L1074.1 1472.2 L1075.5 1472.2 L1076.9 1472.2 L1078.3 1472.2 L1079.7 1472.1 L1081.1 1472.1 L1082.5 1472.1 L1083.9 1472 L1085.3 1472 L1086.7 1472 L1088.1 1471.9 L1089.5 1471.9 L1090.9 1471.8 L1092.3 1471.8 L1093.8 1471.7 L1095.2 1471.7 L1096.6 1471.6 L1098 1471.6 L1099.4 1471.5 L1100.8 1471.5 L1102.2 1471.4 L1103.6 1471.4 L1105 1471.3 L1106.4 1471.3 L1107.8 1471.2 L1109.2 1471.1 L1110.6 1471.1 L1112 1471 L1113.4 1471 L1114.8 1470.9 L1116.2 1470.8 L1117.7 1470.8 L1119.1 1470.7 L1120.5 1470.7 L1121.9 1470.6 L1123.3 1470.5 L1124.7 1470.5 L1126.1 1470.4 L1127.5 1470.3 L1128.9 1470.2 L1130.3 1470.2 L1131.7 1470.1 L1133.1 1470 L1134.5 1470 L1135.9 1469.9 L1137.3 1469.8 L1138.8 1469.8 L1140.2 1469.7 L1141.6 1469.6 L1143 1469.5 L1144.4 1469.5 L1145.8 1469.4 L1147.2 1469.3 L1148.6 1469.2 L1150 1469.2 L1151.4 1469.1 L1152.8 1469 L1154.2 1468.9 L1155.6 1468.8 L1157 1468.8 L1158.4 1468.7 L1159.8 1468.6 L1161.2 1468.5 L1162.7 1468.5 L1164.1 1468.4 L1165.5 1468.3 L1166.9 1468.2 L1168.3 1468.2 L1169.7 1468.1 L1171.1 1468 L1172.5 1468 L1173.9 1467.9 L1175.3 1467.8 L1176.7 1467.7 L1178.1 1467.7 L1179.5 1467.6 L1180.9 1467.6 L1182.3 1467.5 L1183.8 1467.4 L1185.2 1467.4 L1186.6 1467.3 L1188 1467.3 L1189.4 1467.2 L1190.8 1467.2 L1192.2 1467.1 L1193.6 1467.1 L1195 1467 L1196.4 1467 L1197.8 1466.9 L1199.2 1466.9 L1200.6 1466.9 L1202 1466.8 L1203.4 1466.8 L1204.8 1466.8 L1206.2 1466.8 L1207.7 1466.8 L1209.1 1466.7 L1210.5 1466.7 L1211.9 1466.7 L1213.3 1466.7 L1214.7 1466.7 L1216.1 1466.7 L1217.5 1466.7 L1218.9 1466.7 L1220.3 1466.8 L1221.7 1466.8 L1223.1 1466.8 L1224.5 1466.8 L1225.9 1466.9 L1227.3 1466.9 L1228.8 1466.9 L1230.2 1467 L1231.6 1467 L1233 1467.1 L1234.4 1467.1 L1235.8 1467.2 L1237.2 1467.3 L1238.6 1467.3 L1240 1467.4 L1241.4 1467.5 L1242.8 1467.6 L1244.2 1467.7 L1245.6 1467.7 L1247 1467.8 L1248.4 1467.9 L1249.8 1468.1 L1251.2 1468.2 L1252.7 1468.3 L1254.1 1468.4 L1255.5 1468.5 L1256.9 1468.7 L1258.3 1468.8 L1259.7 1468.9 L1261.1 1469.1 L1262.5 1469.2 L1263.9 1469.4 L1265.3 1469.6 L1266.7 1469.7 L1268.1 1469.9 L1269.5 1470.1 L1270.9 1470.3 L1272.3 1470.4 L1273.8 1470.6 L1275.2 1470.8 L1276.6 1471 L1278 1471.2 L1279.4 1471.4 L1280.8 1471.6 L1282.2 1471.9 L1283.6 1472.1 L1285 1472.3 L1286.4 1472.5 L1287.8 1472.7 L1289.2 1473 L1290.6 1473.2 L1292 1473.4 L1293.4 1473.7 L1294.8 1473.9 L1296.2 1474.2 L1297.7 1474.4 L1299.1 1474.6 L1300.5 1474.9 L1301.9 1475.1 L1303.3 1475.4 L1304.7 1475.6 L1306.1 1475.9 L1307.5 1476.2 L1308.9 1476.4 L1310.3 1476.7 L1311.7 1476.9 L1313.1 1477.2 L1314.5 1477.4 L1315.9 1477.7 L1317.3 1478 L1318.8 1478.2 L1320.2 1478.5 L1321.6 1478.7 L1323 1479 L1324.4 1479.2 L1325.8 1479.5 L1327.2 1479.7 L1328.6 1480 L1330 1480.2 L1331.4 1480.5 L1332.8 1480.7 L1334.2 1480.9 L1335.6 1481.2 L1337 1481.4 L1338.4 1481.6 L1339.8 1481.9 L1341.2 1482.1 L1342.7 1482.3 L1344.1 1482.5 L1345.5 1482.7 L1346.9 1482.9 L1348.3 1483.1 L1349.7 1483.3 L1351.1 1483.5 L1352.5 1483.7 L1353.9 1483.9 L1355.3 1484.1 L1356.7 1484.2 L1358.1 1484.4 L1359.5 1484.6 L1360.9 1484.7 L1362.3 1484.9 L1363.8 1485 L1365.2 1485.2 L1366.6 1485.3 L1368 1485.5 L1369.4 1485.6 L1370.8 1485.7 L1372.2 1485.9 L1373.6 1486 L1375 1486.1 L1376.4 1486.2 L1377.8 1486.3 L1379.2 1486.5 L1380.6 1486.6 L1382 1486.7 L1383.4 1486.8 L1384.8 1486.9 L1386.2 1487 L1387.7 1487.1 L1389.1 1487.2 L1390.5 1487.3 L1391.9 1487.4 L1393.3 1487.4 L1394.7 1487.5 L1396.1 1487.6 L1397.5 1487.7 L1398.9 1487.8 L1400.3 1487.8 L1401.7 1487.9 L1403.1 1488 L1404.5 1488.1 L1405.9 1488.1 L1407.3 1488.2 L1408.8 1488.3 L1410.2 1488.3 L1411.6 1488.4 L1413 1488.5 L1414.4 1488.5 L1415.8 1488.6 L1417.2 1488.6 L1418.6 1488.7 L1420 1488.7 L1421.4 1488.8 L1422.8 1488.8 L1424.2 1488.9 L1425.6 1488.9 L1427 1489 L1428.4 1489 L1429.8 1489.1 L1431.2 1489.1 L1432.7 1489.1 L1434.1 1489.2 L1435.5 1489.2 L1436.9 1489.3 L1438.3 1489.3 L1439.7 1489.3 L1441.1 1489.4 L1442.5 1489.4 L1443.9 1489.4 L1445.3 1489.5 L1446.7 1489.5 L1448.1 1489.5 L1449.5 1489.5 L1450.9 1489.6 L1452.3 1489.6 L1453.8 1489.6 L1455.2 1489.6 L1456.6 1489.7 L1458 1489.7 L1459.4 1489.7 L1460.8 1489.7 L1462.2 1489.7 L1463.6 1489.8 L1465 1489.8 L1466.4 1489.8 L1467.8 1489.8 L1469.2 1489.8 L1470.6 1489.8 L1472 1489.8 L1473.4 1489.9 L1474.8 1489.9 L1476.2 1489.9 L1477.7 1489.9 L1479.1 1489.9 L1480.5 1489.9 L1481.9 1489.9 L1483.3 1489.9 L1484.7 1489.9 L1486.1 1490 L1487.5 1490 L1488.9 1490 L1490.3 1490 L1491.7 1490 L1493.1 1490 L1494.5 1490 L1495.9 1490 L1497.3 1490 L1498.8 1490 L1500.2 1490 L1501.6 1490 L1503 1490 L1504.4 1490 L1505.8 1490 L1507.2 1490 L1508.6 1490 L1510 1490 L1511.4 1490 L1512.8 1490 L1514.2 1490 L1515.6 1490 L1517 1490 L1518.4 1490 L1519.8 1490 L1521.2 1490 L1522.7 1490 L1524.1 1490 L1525.5 1490 L1526.9 1490 L1528.3 1490 L1529.7 1490 L1531.1 1490 L1532.5 1490 L1533.9 1490 L1535.3 1490 L1536.7 1490 L1538.1 1490 L1539.5 1490 L1540.9 1490 L1542.3 1490 L1543.8 1490 L1545.2 1489.9 L1546.6 1489.9 L1548 1489.9 L1549.4 1489.9 L1550.8 1489.9 L1552.2 1489.9 L1553.6 1489.9 L1555 1489.9 L1556.4 1489.9 L1557.8 1489.9 L1559.2 1489.9 L1560.6 1489.8 L1562 1489.8 L1563.4 1489.8 L1564.8 1489.8 L1566.2 1489.8 L1567.7 1489.8 L1569.1 1489.8 L1570.5 1489.8 L1571.9 1489.8 L1573.3 1489.7 L1574.7 1489.7 L1576.1 1489.7 L1577.5 1489.7 L1578.9 1489.7 L1580.3 1489.7 L1581.7 1489.7 L1583.1 1489.6 L1584.5 1489.6 L1585.9 1489.6 L1587.3 1489.6 L1588.8 1489.6 L1590.2 1489.6 L1591.6 1489.6 L1593 1489.5 L1594.4 1489.5 L1595.8 1489.5 L1597.2 1489.5 L1598.6 1489.5 L1600 1489.5 L1601.4 1489.4 L1602.8 1489.4 L1604.2 1489.4 L1605.6 1489.4 L1607 1489.4 L1608.4 1489.3 L1609.8 1489.3 L1611.2 1489.3 L1612.7 1489.3 L1614.1 1489.3 L1615.5 1489.3 L1616.9 1489.2 L1618.3 1489.2 L1619.7 1489.2 L1621.1 1489.2 L1622.5 1489.2 L1623.9 1489.1 L1625.3 1489.1 L1626.7 1489.1 L1628.1 1489.1 L1629.5 1489.1 L1630.9 1489 L1632.3 1489 L1633.8 1489 L1635.2 1489 L1636.6 1489 L1638 1488.9 L1639.4 1488.9 L1640.8 1488.9 L1642.2 1488.9 L1643.6 1488.9 L1645 1488.8 L1646.4 1488.8 L1647.8 1488.8 L1649.2 1488.8 L1650.6 1488.8 L1652 1488.7 L1653.4 1488.7 L1654.8 1488.7 L1656.2 1488.7 L1657.7 1488.7 L1659.1 1488.6 L1660.5 1488.6 L1661.9 1488.6 L1663.3 1488.6 L1664.7 1488.6 L1666.1 1488.5 L1667.5 1488.5 L1668.9 1488.5 L1670.3 1488.5 L1671.7 1488.5 L1673.1 1488.4 L1674.5 1488.4 L1675.9 1488.4 L1677.3 1488.4 L1678.8 1488.4 L1680.2 1488.3 L1681.6 1488.3 L1683 1488.3 L1684.4 1488.3 L1685.8 1488.3 L1687.2 1488.3 L1688.6 1488.2 L1690 1488.2 L1691.4 1488.2 L1692.8 1488.2 L1694.2 1488.2 L1695.6 1488.2 L1697 1488.1 L1698.4 1488.1 L1699.8 1488.1 L1701.2 1488.1 L1702.7 1488.1 L1704.1 1488.1 L1705.5 1488 L1706.9 1488 L1708.3 1488 L1709.7 1488 L1711.1 1488 L1712.5 1488 L1713.9 1488 L1715.3 1488 L1716.7 1487.9 L1718.1 1487.9 L1719.5 1487.9 L1720.9 1487.9 L1722.3 1487.9 L1723.8 1487.9 L1725.2 1487.9 L1726.6 1487.9 L1728 1487.9 L1729.4 1487.8 L1730.8 1487.8 L1732.2 1487.8 L1733.6 1487.8 L1735 1487.8 L1736.4 1487.8 L1737.8 1487.8 L1739.2 1487.8 L1740.6 1487.8 L1742 1487.8 L1743.4 1487.8 L1744.8 1487.8 L1746.2 1487.7 L1747.7 1487.7 L1749.1 1487.7 L1750.5 1487.7 L1751.9 1487.7 L1753.3 1487.7 L1754.7 1487.7 L1756.1 1487.7 L1757.5 1487.7 L1758.9 1487.7 L1760.3 1487.7 L1761.7 1487.7 L1763.1 1487.7 L1764.5 1487.7 L1765.9 1487.7 L1767.3 1487.7 L1768.8 1487.7 L1770.2 1487.7 L1771.6 1487.6 L1773 1487.6 L1774.4 1487.6 L1775.8 1487.6 L1777.2 1487.6 L1778.6 1487.6 L1780 1487.6 L1781.4 1487.6 L1782.8 1487.6 L1784.2 1487.6 L1785.6 1487.6 L1787 1487.6 L1788.4 1487.6 L1789.8 1487.6 L1791.2 1487.6 L1792.7 1487.6 L1794.1 1487.6 L1795.5 1487.6 L1796.9 1487.6 L1798.3 1487.6 L1799.7 1487.6 L1801.1 1487.6 L1802.5 1487.6 L1803.9 1487.6 L1805.3 1487.5 L1806.7 1487.5 L1808.1 1487.5 L1809.5 1487.5 L1810.9 1487.5 L1812.3 1487.5 L1813.8 1487.5 L1815.2 1487.5 L1816.6 1487.5 L1818 1487.5 L1819.4 1487.5 L1820.8 1487.5 L1822.2 1487.5 L1823.6 1487.5 L1825 1487.5 L1826.4 1487.5 L1827.8 1487.5 L1829.2 1487.5 L1830.6 1487.5 L1832 1487.4 L1833.4 1487.4 L1834.8 1487.4 L1836.2 1487.4 L1837.7 1487.4 L1839.1 1487.4 L1840.5 1487.4 L1841.9 1487.4 L1843.3 1487.4 L1844.7 1487.4 L1846.1 1487.4 L1847.5 1487.4 L1848.9 1487.4 L1850.3 1487.4 L1851.7 1487.3 L1853.1 1487.3 L1854.5 1487.3 L1855.9 1487.3 L1857.3 1487.3 L1858.8 1487.3 L1860.2 1487.3 L1861.6 1487.3 L1863 1487.3 L1864.4 1487.3 L1865.8 1487.2 L1867.2 1487.2 L1868.6 1487.2 L1870 1487.2 L1871.4 1487.2 L1872.8 1487.2 L1874.2 1487.2 L1875.6 1487.2 L1877 1487.2 L1878.4 1487.2 L1879.8 1487.1 L1881.2 1487.1 L1882.7 1487.1 L1884.1 1487.1 L1885.5 1487.1 L1886.9 1487.1 L1888.3 1487.1 L1889.7 1487.1 L1891.1 1487 L1892.5 1487 L1893.9 1487 L1895.3 1487 L1896.7 1487 L1898.1 1487 L1899.5 1487 L1900.9 1486.9 L1902.3 1486.9 L1903.8 1486.9 L1905.2 1486.9 L1906.6 1486.9 L1908 1486.9 L1909.4 1486.9 L1910.8 1486.8 L1912.2 1486.8 L1913.6 1486.8 L1915 1486.8 L1916.4 1486.8 L1917.8 1486.8 L1919.2 1486.7 L1920.6 1486.7 L1922 1486.7 L1923.4 1486.7 L1924.8 1486.7 L1926.2 1486.6 L1927.7 1486.6 L1929.1 1486.6 L1930.5 1486.6 L1931.9 1486.6 L1933.3 1486.6 L1934.7 1486.5 L1936.1 1486.5 L1937.5 1486.5 L1938.9 1486.5 L1940.3 1486.5 L1941.7 1486.4 L1943.1 1486.4 L1944.5 1486.4 L1945.9 1486.4 L1947.3 1486.4 L1948.8 1486.3 L1950.2 1486.3 L1951.6 1486.3 L1953 1486.3 L1954.4 1486.2 L1955.8 1486.2 L1957.2 1486.2 L1958.6 1486.2 L1960 1486.1 L1961.4 1486.1 L1962.8 1486.1 L1964.2 1486.1 L1965.6 1486 L1967 1486 L1968.4 1486 L1969.8 1485.9 L1971.2 1485.9 L1972.7 1485.9 L1974.1 1485.8 L1975.5 1485.8 L1976.9 1485.8 L1978.3 1485.7 L1979.7 1485.7 L1981.1 1485.7 L1982.5 1485.6 L1983.9 1485.6 L1985.3 1485.5 L1986.7 1485.5 L1988.1 1485.4 L1989.5 1485.4 L1990.9 1485.4 L1992.3 1485.3 L1993.8 1485.3 L1995.2 1485.2 L1996.6 1485.2 L1998 1485.1 L1999.4 1485.1 L2000.8 1485 L2002.2 1484.9 L2003.6 1484.9 L2005 1484.8 L2006.4 1484.8 L2007.8 1484.7 L2009.2 1484.6 L2010.6 1484.6 L2012 1484.5 L2013.4 1484.4 L2014.8 1484.4 L2016.2 1484.3 L2017.7 1484.2 L2019.1 1484.1 L2020.5 1484.1 L2021.9 1484 L2023.3 1483.9 L2024.7 1483.8 L2026.1 1483.7 L2027.5 1483.6 L2028.9 1483.6 L2030.3 1483.5 L2031.7 1483.4 L2033.1 1483.3 L2034.5 1483.2 L2035.9 1483.1 L2037.3 1483 L2038.8 1482.9 L2040.2 1482.8 L2041.6 1482.7 L2043 1482.6 L2044.4 1482.5 L2045.8 1482.4 L2047.2 1482.3 L2048.6 1482.2 L2050 1482.1 L2051.4 1482 L2052.8 1481.9 L2054.2 1481.8 L2055.6 1481.7 L2057 1481.6 L2058.4 1481.5 L2059.8 1481.4 L2061.2 1481.3 L2062.7 1481.2 L2064.1 1481.1 L2065.5 1481 L2066.9 1480.9 L2068.3 1480.8 L2069.7 1480.7 L2071.1 1480.6 L2072.5 1480.5 L2073.9 1480.4 L2075.3 1480.3 L2076.7 1480.2 L2078.1 1480.1 L2079.5 1480 L2080.9 1479.9 L2082.3 1479.8 L2083.8 1479.7 L2085.2 1479.6 L2086.6 1479.5 L2088 1479.4 L2089.4 1479.3 L2090.8 1479.3 L2092.2 1479.2 L2093.6 1479.1 L2095 1479 L2096.4 1478.9 L2097.8 1478.8 L2099.2 1478.8 L2100.6 1478.7 L2102 1478.6 L2103.4 1478.5 L2104.8 1478.4 L2106.2 1478.4 L2107.7 1478.3 L2109.1 1478.2 L2110.5 1478.2 L2111.9 1478.1 L2113.3 1478 L2114.7 1477.9 L2116.1 1477.9 L2117.5 1477.8 L2118.9 1477.8 L2120.3 1477.7 L2121.7 1477.6 L2123.1 1477.6 L2124.5 1477.5 L2125.9 1477.5 L2127.3 1477.4 L2128.8 1477.3 L2130.2 1477.3 L2131.6 1477.2 L2133 1477.2 L2134.4 1477.1 L2135.8 1477.1 L2137.2 1477.1 L2138.6 1477 L2140 1477 L2141.4 1476.9 L2142.8 1476.9 L2144.2 1476.8 L2145.6 1476.8 L2147 1476.8 L2148.4 1476.7 L2149.8 1476.7 L2151.2 1476.6 L2152.7 1476.6 L2154.1 1476.6 L2155.5 1476.5 L2156.9 1476.5 L2158.3 1476.4 L2159.7 1476.4 L2161.1 1476.4 L2162.5 1476.3 L2163.9 1476.3 L2165.3 1476.2 L2166.7 1476.2 L2168.1 1476.1 L2169.5 1476.1 L2170.9 1476 L2172.3 1476 L2173.8 1475.9 L2175.2 1475.9 L2176.6 1475.8 L2178 1475.8 L2179.4 1475.7 L2180.8 1475.6 L2182.2 1475.6 L2183.6 1475.5 L2185 1475.4 L2186.4 1475.3 L2187.8 1475.3 L2189.2 1475.2 L2190.6 1475.1 L2192 1475 L2193.4 1474.9 L2194.8 1474.8 L2196.2 1474.7 L2197.7 1474.6 L2199.1 1474.5 L2200.5 1474.4 L2201.9 1474.3 L2203.3 1474.1 L2204.7 1474 L2206.1 1473.9 L2207.5 1473.7 L2208.9 1473.6 L2210.3 1473.5 L2211.7 1473.3 L2213.1 1473.2 L2214.5 1473 L2215.9 1472.9 L2217.3 1472.7 L2218.8 1472.6 L2220.2 1472.4 L2221.6 1472.2 L2223 1472 L2224.4 1471.9 L2225.8 1471.7 L2227.2 1471.5 L2228.6 1471.3 L2230 1471.1 L2231.4 1470.9 L2232.8 1470.7 L2234.2 1470.5 L2235.6 1470.3 L2237 1470.1 L2238.4 1469.8 L2239.8 1469.6 L2241.2 1469.4 L2242.7 1469.2 L2244.1 1468.9 L2245.5 1468.7 L2246.9 1468.5 L2248.3 1468.2 L2249.7 1468 L2251.1 1467.7 L2252.5 1467.5 L2253.9 1467.2 L2255.3 1467 L2256.7 1466.7 L2258.1 1466.5 L2259.5 1466.2 L2260.9 1465.9 L2262.3 1465.7 L2263.8 1465.4 L2265.2 1465.2 L2266.6 1464.9 L2268 1464.6 L2269.4 1464.4 L2270.8 1464.1 L2272.2 1463.8 L2273.6 1463.6 L2275 1463.3" fill="none" stroke="#000" stroke-width="4.6" stroke-dasharray="28.5 25" stroke-dashoffset="25.62"/>
<path d="M250 1464 L251.4 1463.3 L252.8 1462.7 L254.2 1462 L255.6 1461.3 L257 1460.6 L258.4 1459.9 L259.8 1459.2 L261.2 1458.5 L262.7 1457.7 L264.1 1457 L265.5 1456.2 L266.9 1455.5 L268.3 1454.7 L269.7 1453.9 L271.1 1453.1 L272.5 1452.3 L273.9 1451.5 L275.3 1450.6 L276.7 1449.8 L278.1 1448.9 L279.5 1448 L280.9 1447.2 L282.3 1446.3 L283.8 1445.3 L285.2 1444.4 L286.6 1443.5 L288 1442.5 L289.4 1441.5 L290.8 1440.5 L292.2 1439.5 L293.6 1438.4 L295 1437.3 L296.4 1436.3 L297.8 1435.1 L299.2 1434 L300.6 1432.9 L302 1431.7 L303.4 1430.5 L304.8 1429.2 L306.2 1428 L307.7 1426.7 L309.1 1425.3 L310.5 1424 L311.9 1422.6 L313.3 1421.3 L314.7 1419.8 L316.1 1418.4 L317.5 1417 L318.9 1415.5 L320.3 1414 L321.7 1412.5 L323.1 1411 L324.5 1409.4 L325.9 1407.9 L327.3 1406.3 L328.8 1404.7 L330.2 1403.1 L331.6 1401.5 L333 1399.8 L334.4 1398.2 L335.8 1396.5 L337.2 1394.8 L338.6 1393.1 L340 1391.3 L341.4 1389.5 L342.8 1387.7 L344.2 1385.9 L345.6 1384 L347 1382.2 L348.4 1380.3 L349.8 1378.3 L351.2 1376.4 L352.7 1374.4 L354.1 1372.4 L355.5 1370.3 L356.9 1368.2 L358.3 1366 L359.7 1363.8 L361.1 1361.6 L362.5 1359.3 L363.9 1356.9 L365.3 1354.5 L366.7 1352 L368.1 1349.5 L369.5 1346.9 L370.9 1344.2 L372.3 1341.5 L373.8 1338.8 L375.2 1335.9 L376.6 1333.1 L378 1330.1 L379.4 1327.2 L380.8 1324.1 L382.2 1321.1 L383.6 1317.9 L385 1314.8 L386.4 1311.6 L387.8 1308.3 L389.2 1305 L390.6 1301.6 L392 1298.3 L393.4 1294.8 L394.8 1291.4 L396.2 1287.9 L397.7 1284.3 L399.1 1280.8 L400.5 1277.2 L401.9 1273.6 L403.3 1269.9 L404.7 1266.3 L406.1 1262.6 L407.5 1258.9 L408.9 1255.2 L410.3 1251.4 L411.7 1247.7 L413.1 1243.9 L414.5 1240.1 L415.9 1236.4 L417.3 1232.6 L418.8 1228.8 L420.2 1225 L421.6 1221.2 L423 1217.4 L424.4 1213.7 L425.8 1209.9 L427.2 1206.1 L428.6 1202.3 L430 1198.6 L431.4 1194.8 L432.8 1191 L434.2 1187.2 L435.6 1183.3 L437 1179.5 L438.4 1175.6 L439.8 1171.7 L441.2 1167.8 L442.7 1163.8 L444.1 1159.8 L445.5 1155.7 L446.9 1151.6 L448.3 1147.4 L449.7 1143.2 L451.1 1138.9 L452.5 1134.6 L453.9 1130.2 L455.3 1125.7 L456.7 1121.2 L458.1 1116.6 L459.5 1112 L460.9 1107.3 L462.3 1102.6 L463.8 1097.9 L465.2 1093.1 L466.6 1088.3 L468 1083.4 L469.4 1078.5 L470.8 1073.6 L472.2 1068.7 L473.6 1063.7 L475 1058.8 L476.4 1053.8 L477.8 1048.8 L479.2 1043.7 L480.6 1038.7 L482 1033.6 L483.4 1028.6 L484.8 1023.5 L486.2 1018.5 L487.7 1013.4 L489.1 1008.4 L490.5 1003.3 L491.9 998.3 L493.3 993.3 L494.7 988.2 L496.1 983.2 L497.5 978.2 L498.9 973.2 L500.3 968.1 L501.7 963.1 L503.1 958.1 L504.5 953 L505.9 947.9 L507.3 942.8 L508.8 937.7 L510.2 932.6 L511.6 927.4 L513 922.2 L514.4 917 L515.8 911.8 L517.2 906.5 L518.6 901.1 L520 895.8 L521.4 890.4 L522.8 885 L524.2 879.5 L525.6 874 L527 868.4 L528.4 862.8 L529.8 857.2 L531.2 851.7 L532.7 846.1 L534.1 840.6 L535.5 835.1 L536.9 829.6 L538.3 824.3 L539.7 819 L541.1 813.8 L542.5 808.7 L543.9 803.7 L545.3 798.7 L546.7 793.9 L548.1 789.1 L549.5 784.4 L550.9 779.9 L552.3 775.3 L553.8 770.9 L555.2 766.6 L556.6 762.3 L558 758 L559.4 753.9 L560.8 749.8 L562.2 745.8 L563.6 741.8 L565 737.8 L566.4 733.9 L567.8 730.1 L569.2 726.3 L570.6 722.6 L572 719 L573.4 715.4 L574.8 711.9 L576.2 708.4 L577.7 705.1 L579.1 701.8 L580.5 698.6 L581.9 695.5 L583.3 692.5 L584.7 689.5 L586.1 686.6 L587.5 683.8 L588.9 681 L590.3 678.3 L591.7 675.7 L593.1 673.1 L594.5 670.7 L595.9 668.2 L597.3 665.9 L598.8 663.6 L600.2 661.4 L601.6 659.2 L603 657.1 L604.4 655 L605.8 653.1 L607.2 651.1 L608.6 649.3 L610 647.5 L611.4 645.8 L612.8 644.1 L614.2 642.6 L615.6 641.1 L617 639.7 L618.4 638.3 L619.8 637.1 L621.2 635.9 L622.7 634.8 L624.1 633.8 L625.5 632.9 L626.9 632.1 L628.3 631.4 L629.7 630.8 L631.1 630.3 L632.5 629.9 L633.9 629.6 L635.3 629.4 L636.7 629.4 L638.1 629.4 L639.5 629.6 L640.9 629.8 L642.3 630.2 L643.8 630.7 L645.2 631.2 L646.6 631.9 L648 632.7 L649.4 633.6 L650.8 634.6 L652.2 635.7 L653.6 636.8 L655 638.1 L656.4 639.4 L657.8 640.8 L659.2 642.3 L660.6 643.9 L662 645.5 L663.4 647.1 L664.8 648.9 L666.2 650.7 L667.7 652.5 L669.1 654.5 L670.5 656.4 L671.9 658.5 L673.3 660.6 L674.7 662.8 L676.1 665 L677.5 667.4 L678.9 669.8 L680.3 672.2 L681.7 674.7 L683.1 677.3 L684.5 680 L685.9 682.8 L687.3 685.6 L688.8 688.5 L690.2 691.5 L691.6 694.5 L693 697.6 L694.4 700.8 L695.8 704.1 L697.2 707.5 L698.6 710.9 L700 714.4 L701.4 718 L702.8 721.7 L704.2 725.4 L705.6 729.2 L707 733.2 L708.4 737.1 L709.8 741.2 L711.2 745.4 L712.7 749.6 L714.1 753.9 L715.5 758.3 L716.9 762.8 L718.3 767.3 L719.7 772 L721.1 776.7 L722.5 781.5 L723.9 786.4 L725.3 791.3 L726.7 796.3 L728.1 801.3 L729.5 806.3 L730.9 811.4 L732.3 816.4 L733.8 821.5 L735.2 826.6 L736.6 831.6 L738 836.6 L739.4 841.6 L740.8 846.6 L742.2 851.6 L743.6 856.5 L745 861.5 L746.4 866.4 L747.8 871.3 L749.2 876.2 L750.6 881.1 L752 886 L753.4 890.9 L754.8 895.7 L756.2 900.6 L757.7 905.5 L759.1 910.4 L760.5 915.4 L761.9 920.3 L763.3 925.3 L764.7 930.4 L766.1 935.4 L767.5 940.6 L768.9 945.7 L770.3 951 L771.7 956.2 L773.1 961.5 L774.5 966.9 L775.9 972.3 L777.3 977.6 L778.8 983.1 L780.2 988.5 L781.6 994 L783 999.4 L784.4 1004.9 L785.8 1010.4 L787.2 1015.8 L788.6 1021.3 L790 1026.7 L791.4 1032.2 L792.8 1037.6 L794.2 1042.9 L795.6 1048.3 L797 1053.6 L798.4 1058.8 L799.8 1064.1 L801.2 1069.3 L802.7 1074.5 L804.1 1079.6 L805.5 1084.7 L806.9 1089.8 L808.3 1094.8 L809.7 1099.8 L811.1 1104.7 L812.5 1109.6 L813.9 1114.5 L815.3 1119.3 L816.7 1124.1 L818.1 1128.8 L819.5 1133.5 L820.9 1138.2 L822.3 1142.8 L823.8 1147.3 L825.2 1151.8 L826.6 1156.3 L828 1160.7 L829.4 1165.1 L830.8 1169.4 L832.2 1173.7 L833.6 1177.9 L835 1182.1 L836.4 1186.3 L837.8 1190.4 L839.2 1194.5 L840.6 1198.6 L842 1202.6 L843.4 1206.6 L844.8 1210.6 L846.2 1214.5 L847.7 1218.4 L849.1 1222.3 L850.5 1226.1 L851.9 1230 L853.3 1233.8 L854.7 1237.5 L856.1 1241.3 L857.5 1245 L858.9 1248.7 L860.3 1252.4 L861.7 1256.1 L863.1 1259.8 L864.5 1263.4 L865.9 1267 L867.3 1270.6 L868.8 1274.1 L870.2 1277.7 L871.6 1281.2 L873 1284.6 L874.4 1288.1 L875.8 1291.5 L877.2 1294.9 L878.6 1298.2 L880 1301.5 L881.4 1304.8 L882.8 1308 L884.2 1311.2 L885.6 1314.3 L887 1317.4 L888.4 1320.5 L889.8 1323.5 L891.2 1326.5 L892.7 1329.5 L894.1 1332.4 L895.5 1335.2 L896.9 1338.1 L898.3 1340.9 L899.7 1343.6 L901.1 1346.4 L902.5 1349.1 L903.9 1351.7 L905.3 1354.3 L906.7 1356.9 L908.1 1359.5 L909.5 1362 L910.9 1364.5 L912.3 1367 L913.8 1369.4 L915.2 1371.8 L916.6 1374.1 L918 1376.5 L919.4 1378.8 L920.8 1381.1 L922.2 1383.3 L923.6 1385.5 L925 1387.7 L926.4 1389.9 L927.8 1392 L929.2 1394.1 L930.6 1396.2 L932 1398.2 L933.4 1400.2 L934.8 1402.2 L936.2 1404.1 L937.7 1406 L939.1 1407.9 L940.5 1409.8 L941.9 1411.6 L943.3 1413.4 L944.7 1415.2 L946.1 1416.9 L947.5 1418.7 L948.9 1420.3 L950.3 1422 L951.7 1423.6 L953.1 1425.1 L954.5 1426.7 L955.9 1428.2 L957.3 1429.7 L958.8 1431.1 L960.2 1432.5 L961.6 1433.9 L963 1435.2 L964.4 1436.5 L965.8 1437.8 L967.2 1439 L968.6 1440.2 L970 1441.4 L971.4 1442.5 L972.8 1443.6 L974.2 1444.7 L975.6 1445.7 L977 1446.8 L978.4 1447.8 L979.8 1448.7 L981.2 1449.6 L982.7 1450.6 L984.1 1451.4 L985.5 1452.3 L986.9 1453.1 L988.3 1453.9 L989.7 1454.7 L991.1 1455.5 L992.5 1456.2 L993.9 1456.9 L995.3 1457.6 L996.7 1458.3 L998.1 1458.9 L999.5 1459.6 L1000.9 1460.2 L1002.3 1460.8 L1003.8 1461.3 L1005.2 1461.9 L1006.6 1462.4 L1008 1462.9 L1009.4 1463.4 L1010.8 1463.9 L1012.2 1464.4 L1013.6 1464.8 L1015 1465.3 L1016.4 1465.7 L1017.8 1466.1 L1019.2 1466.5 L1020.6 1466.8 L1022 1467.2 L1023.4 1467.5 L1024.8 1467.8 L1026.2 1468.2 L1027.7 1468.5 L1029.1 1468.7 L1030.5 1469 L1031.9 1469.3 L1033.3 1469.5 L1034.7 1469.7 L1036.1 1470 L1037.5 1470.2 L1038.9 1470.3 L1040.3 1470.5 L1041.7 1470.7 L1043.1 1470.9 L1044.5 1471 L1045.9 1471.2 L1047.3 1471.3 L1048.8 1471.4 L1050.2 1471.5 L1051.6 1471.6 L1053 1471.7 L1054.4 1471.8 L1055.8 1471.9 L1057.2 1471.9 L1058.6 1472 L1060 1472 L1061.4 1472.1 L1062.8 1472.1 L1064.2 1472.1 L1065.6 1472.2 L1067 1472.2 L1068.4 1472.2 L1069.8 1472.2 L1071.2 1472.2 L1072.7 1472.2 L1074.1 1472.2 L1075.5 1472.2 L1076.9 1472.2 L1078.3 1472.2 L1079.7 1472.1 L1081.1 1472.1 L1082.5 1472.1 L1083.9 1472 L1085.3 1472 L1086.7 1472 L1088.1 1471.9 L1089.5 1471.9 L1090.9 1471.8 L1092.3 1471.8 L1093.8 1471.7 L1095.2 1471.7 L1096.6 1471.6 L1098 1471.6 L1099.4 1471.5 L1100.8 1471.5 L1102.2 1471.4 L1103.6 1471.4 L1105 1471.3 L1106.4 1471.3 L1107.8 1471.2 L1109.2 1471.1 L1110.6 1471.1 L1112 1471 L1113.4 1471 L1114.8 1470.9 L1116.2 1470.8 L1117.7 1470.8 L1119.1 1470.7 L1120.5 1470.7 L1121.9 1470.6 L1123.3 1470.5 L1124.7 1470.5 L1126.1 1470.4 L1127.5 1470.3 L1128.9 1470.2 L1130.3 1470.2 L1131.7 1470.1 L1133.1 1470 L1134.5 1470 L1135.9 1469.9 L1137.3 1469.8 L1138.8 1469.8 L1140.2 1469.7 L1141.6 1469.6 L1143 1469.5 L1144.4 1469.5 L1145.8 1469.4 L1147.2 1469.3 L1148.6 1469.2 L1150 1469.2 L1151.4 1469.1 L1152.8 1469 L1154.2 1468.9 L1155.6 1468.8 L1157 1468.8 L1158.4 1468.7 L1159.8 1468.6 L1161.2 1468.5 L1162.7 1468.5 L1164.1 1468.4 L1165.5 1468.3 L1166.9 1468.2 L1168.3 1468.2 L1169.7 1468.1 L1171.1 1468 L1172.5 1468 L1173.9 1467.9 L1175.3 1467.8 L1176.7 1467.7 L1178.1 1467.7 L1179.5 1467.6 L1180.9 1467.6 L1182.3 1467.5 L1183.8 1467.4 L1185.2 1467.4 L1186.6 1467.3 L1188 1467.3 L1189.4 1467.2 L1190.8 1467.2 L1192.2 1467.1 L1193.6 1467.1 L1195 1467 L1196.4 1467 L1197.8 1466.9 L1199.2 1466.9 L1200.6 1466.9 L1202 1466.8 L1203.4 1466.8 L1204.8 1466.8 L1206.2 1466.8 L1207.7 1466.8 L1209.1 1466.7 L1210.5 1466.7 L1211.9 1466.7 L1213.3 1466.7 L1214.7 1466.7 L1216.1 1466.7 L1217.5 1466.7 L1218.9 1466.7 L1220.3 1466.8 L1221.7 1466.8 L1223.1 1466.8 L1224.5 1466.8 L1225.9 1466.9 L1227.3 1466.9 L1228.8 1466.9 L1230.2 1467 L1231.6 1467 L1233 1467.1 L1234.4 1467.1 L1235.8 1467.2 L1237.2 1467.3 L1238.6 1467.3 L1240 1467.4 L1241.4 1467.5 L1242.8 1467.6 L1244.2 1467.7 L1245.6 1467.7 L1247 1467.8 L1248.4 1467.9 L1249.8 1468.1 L1251.2 1468.2 L1252.7 1468.3 L1254.1 1468.4 L1255.5 1468.5 L1256.9 1468.7 L1258.3 1468.8 L1259.7 1468.9 L1261.1 1469.1 L1262.5 1469.2 L1263.9 1469.4 L1265.3 1469.6 L1266.7 1469.7 L1268.1 1469.9 L1269.5 1470.1 L1270.9 1470.3 L1272.3 1470.4 L1273.8 1470.6 L1275.2 1470.8 L1276.6 1471 L1278 1471.2 L1279.4 1471.4 L1280.8 1471.6 L1282.2 1471.9 L1283.6 1472.1 L1285 1472.3 L1286.4 1472.5 L1287.8 1472.7 L1289.2 1473 L1290.6 1473.2 L1292 1473.4 L1293.4 1473.7 L1294.8 1473.9 L1296.2 1474.2 L1297.7 1474.4 L1299.1 1474.6 L1300.5 1474.9 L1301.9 1475.1 L1303.3 1475.4 L1304.7 1475.6 L1306.1 1475.9 L1307.5 1476.2 L1308.9 1476.4 L1310.3 1476.7 L1311.7 1476.9 L1313.1 1477.2 L1314.5 1477.4 L1315.9 1477.7 L1317.3 1478 L1318.8 1478.2 L1320.2 1478.5 L1321.6 1478.7 L1323 1479 L1324.4 1479.2 L1325.8 1479.5 L1327.2 1479.7 L1328.6 1480 L1330 1480.2 L1331.4 1480.5 L1332.8 1480.7 L1334.2 1480.9 L1335.6 1481.2 L1337 1481.4 L1338.4 1481.6 L1339.8 1481.9 L1341.2 1482.1 L1342.7 1482.3 L1344.1 1482.5 L1345.5 1482.7 L1346.9 1482.9 L1348.3 1483.1 L1349.7 1483.3 L1351.1 1483.5 L1352.5 1483.7 L1353.9 1483.9 L1355.3 1484.1 L1356.7 1484.2 L1358.1 1484.4 L1359.5 1484.6 L1360.9 1484.7 L1362.3 1484.9 L1363.8 1485 L1365.2 1485.2 L1366.6 1485.3 L1368 1485.5 L1369.4 1485.6 L1370.8 1485.7 L1372.2 1485.9 L1373.6 1486 L1375 1486.1 L1376.4 1486.2 L1377.8 1486.3 L1379.2 1486.5 L1380.6 1486.6 L1382 1486.7 L1383.4 1486.8 L1384.8 1486.9 L1386.2 1487 L1387.7 1487.1 L1389.1 1487.2 L1390.5 1487.3 L1391.9 1487.4 L1393.3 1487.4 L1394.7 1487.5 L1396.1 1487.6 L1397.5 1487.7 L1398.9 1487.8 L1400.3 1487.8 L1401.7 1487.9 L1403.1 1488 L1404.5 1488.1 L1405.9 1488.1 L1407.3 1488.2 L1408.8 1488.3 L1410.2 1488.3 L1411.6 1488.4 L1413 1488.5 L1414.4 1488.5 L1415.8 1488.6 L1417.2 1488.6 L1418.6 1488.7 L1420 1488.7 L1421.4 1488.8 L1422.8 1488.8 L1424.2 1488.9 L1425.6 1488.9 L1427 1489 L1428.4 1489 L1429.8 1489.1 L1431.2 1489.1 L1432.7 1489.1 L1434.1 1489.2 L1435.5 1489.2 L1436.9 1489.3 L1438.3 1489.3 L1439.7 1489.3 L1441.1 1489.4 L1442.5 1489.4 L1443.9 1489.4 L1445.3 1489.5 L1446.7 1489.5 L1448.1 1489.5 L1449.5 1489.5 L1450.9 1489.6 L1452.3 1489.6 L1453.8 1489.6 L1455.2 1489.6 L1456.6 1489.7 L1458 1489.7 L1459.4 1489.7 L1460.8 1489.7 L1462.2 1489.7 L1463.6 1489.8 L1465 1489.8 L1466.4 1489.8 L1467.8 1489.8 L1469.2 1489.8 L1470.6 1489.8 L1472 1489.8 L1473.4 1489.9 L1474.8 1489.9 L1476.2 1489.9 L1477.7 1489.9 L1479.1 1489.9 L1480.5 1489.9 L1481.9 1489.9 L1483.3 1489.9 L1484.7 1489.9 L1486.1 1490 L1487.5 1490 L1488.9 1490 L1490.3 1490 L1491.7 1490 L1493.1 1490 L1494.5 1490 L1495.9 1490 L1497.3 1490 L1498.8 1490 L1500.2 1490 L1501.6 1490 L1503 1490 L1504.4 1490 L1505.8 1490 L1507.2 1490 L1508.6 1490 L1510 1490 L1511.4 1490 L1512.8 1490 L1514.2 1490 L1515.6 1490 L1517 1490 L1518.4 1490 L1519.8 1490 L1521.2 1490 L1522.7 1490 L1524.1 1490 L1525.5 1490 L1526.9 1490 L1528.3 1490 L1529.7 1490 L1531.1 1490 L1532.5 1490 L1533.9 1490 L1535.3 1490 L1536.7 1490 L1538.1 1490 L1539.5 1490 L1540.9 1490 L1542.3 1490 L1543.8 1490 L1545.2 1489.9 L1546.6 1489.9 L1548 1489.9 L1549.4 1489.9 L1550.8 1489.9 L1552.2 1489.9 L1553.6 1489.9 L1555 1489.9 L1556.4 1489.9 L1557.8 1489.9 L1559.2 1489.9 L1560.6 1489.8 L1562 1489.8 L1563.4 1489.8 L1564.8 1489.8 L1566.2 1489.8 L1567.7 1489.8 L1569.1 1489.8 L1570.5 1489.8 L1571.9 1489.8 L1573.3 1489.7 L1574.7 1489.7 L1576.1 1489.7 L1577.5 1489.7 L1578.9 1489.7 L1580.3 1489.7 L1581.7 1489.7 L1583.1 1489.6 L1584.5 1489.6 L1585.9 1489.6 L1587.3 1489.6 L1588.8 1489.6 L1590.2 1489.6 L1591.6 1489.6 L1593 1489.5 L1594.4 1489.5 L1595.8 1489.5 L1597.2 1489.5 L1598.6 1489.5 L1600 1489.5 L1601.4 1489.4 L1602.8 1489.4 L1604.2 1489.4 L1605.6 1489.4 L1607 1489.4 L1608.4 1489.3 L1609.8 1489.3 L1611.2 1489.3 L1612.7 1489.3 L1614.1 1489.3 L1615.5 1489.3 L1616.9 1489.2 L1618.3 1489.2 L1619.7 1489.2 L1621.1 1489.2 L1622.5 1489.2 L1623.9 1489.1 L1625.3 1489.1 L1626.7 1489.1 L1628.1 1489.1 L1629.5 1489.1 L1630.9 1489 L1632.3 1489 L1633.8 1489 L1635.2 1489 L1636.6 1489 L1638 1488.9 L1639.4 1488.9 L1640.8 1488.9 L1642.2 1488.9 L1643.6 1488.9 L1645 1488.8 L1646.4 1488.8 L1647.8 1488.8 L1649.2 1488.8 L1650.6 1488.8 L1652 1488.7 L1653.4 1488.7 L1654.8 1488.7 L1656.2 1488.7 L1657.7 1488.7 L1659.1 1488.6 L1660.5 1488.6 L1661.9 1488.6 L1663.3 1488.6 L1664.7 1488.6 L1666.1 1488.5 L1667.5 1488.5 L1668.9 1488.5 L1670.3 1488.5 L1671.7 1488.5 L1673.1 1488.4 L1674.5 1488.4 L1675.9 1488.4 L1677.3 1488.4 L1678.8 1488.4 L1680.2 1488.3 L1681.6 1488.3 L1683 1488.3 L1684.4 1488.3 L1685.8 1488.3 L1687.2 1488.3 L1688.6 1488.2 L1690 1488.2 L1691.4 1488.2 L1692.8 1488.2 L1694.2 1488.2 L1695.6 1488.2 L1697 1488.1 L1698.4 1488.1 L1699.8 1488.1 L1701.2 1488.1 L1702.7 1488.1 L1704.1 1488.1 L1705.5 1488 L1706.9 1488 L1708.3 1488 L1709.7 1488 L1711.1 1488 L1712.5 1488 L1713.9 1488 L1715.3 1488 L1716.7 1487.9 L1718.1 1487.9 L1719.5 1487.9 L1720.9 1487.9 L1722.3 1487.9 L1723.8 1487.9 L1725.2 1487.9 L1726.6 1487.9 L1728 1487.9 L1729.4 1487.8 L1730.8 1487.8 L1732.2 1487.8 L1733.6 1487.8 L1735 1487.8 L1736.4 1487.8 L1737.8 1487.8 L1739.2 1487.8 L1740.6 1487.8 L1742 1487.8 L1743.4 1487.8 L1744.8 1487.8 L1746.2 1487.7 L1747.7 1487.7 L1749.1 1487.7 L1750.5 1487.7 L1751.9 1487.7 L1753.3 1487.7 L1754.7 1487.7 L1756.1 1487.7 L1757.5 1487.7 L1758.9 1487.7 L1760.3 1487.7 L1761.7 1487.7 L1763.1 1487.7 L1764.5 1487.7 L1765.9 1487.7 L1767.3 1487.7 L1768.8 1487.7 L1770.2 1487.7 L1771.6 1487.6 L1773 1487.6 L1774.4 1487.6 L1775.8 1487.6 L1777.2 1487.6 L1778.6 1487.6 L1780 1487.6 L1781.4 1487.6 L1782.8 1487.6 L1784.2 1487.6 L1785.6 1487.6 L1787 1487.6 L1788.4 1487.6 L1789.8 1487.6 L1791.2 1487.6 L1792.7 1487.6 L1794.1 1487.6 L1795.5 1487.6 L1796.9 1487.6 L1798.3 1487.6 L1799.7 1487.6 L1801.1 1487.6 L1802.5 1487.6 L1803.9 1487.6 L1805.3 1487.5 L1806.7 1487.5 L1808.1 1487.5 L1809.5 1487.5 L1810.9 1487.5 L1812.3 1487.5 L1813.8 1487.5 L1815.2 1487.5 L1816.6 1487.5 L1818 1487.5 L1819.4 1487.5 L1820.8 1487.5 L1822.2 1487.5 L1823.6 1487.5 L1825 1487.5 L1826.4 1487.5 L1827.8 1487.5 L1829.2 1487.5 L1830.6 1487.5 L1832 1487.4 L1833.4 1487.4 L1834.8 1487.4 L1836.2 1487.4 L1837.7 1487.4 L1839.1 1487.4 L1840.5 1487.4 L1841.9 1487.4 L1843.3 1487.4 L1844.7 1487.4 L1846.1 1487.4 L1847.5 1487.4 L1848.9 1487.4 L1850.3 1487.4 L1851.7 1487.3 L1853.1 1487.3 L1854.5 1487.3 L1855.9 1487.3 L1857.3 1487.3 L1858.8 1487.3 L1860.2 1487.3 L1861.6 1487.3 L1863 1487.3 L1864.4 1487.3 L1865.8 1487.2 L1867.2 1487.2 L1868.6 1487.2 L1870 1487.2 L1871.4 1487.2 L1872.8 1487.2 L1874.2 1487.2 L1875.6 1487.2 L1877 1487.2 L1878.4 1487.2 L1879.8 1487.1 L1881.2 1487.1 L1882.7 1487.1 L1884.1 1487.1 L1885.5 1487.1 L1886.9 1487.1 L1888.3 1487.1 L1889.7 1487.1 L1891.1 1487 L1892.5 1487 L1893.9 1487 L1895.3 1487 L1896.7 1487 L1898.1 1487 L1899.5 1487 L1900.9 1486.9 L1902.3 1486.9 L1903.8 1486.9 L1905.2 1486.9 L1906.6 1486.9 L1908 1486.9 L1909.4 1486.9 L1910.8 1486.8 L1912.2 1486.8 L1913.6 1486.8 L1915 1486.8 L1916.4 1486.8 L1917.8 1486.8 L1919.2 1486.7 L1920.6 1486.7 L1922 1486.7 L1923.4 1486.7 L1924.8 1486.7 L1926.2 1486.6 L1927.7 1486.6 L1929.1 1486.6 L1930.5 1486.6 L1931.9 1486.6 L1933.3 1486.6 L1934.7 1486.5 L1936.1 1486.5 L1937.5 1486.5 L1938.9 1486.5 L1940.3 1486.5 L1941.7 1486.4 L1943.1 1486.4 L1944.5 1486.4 L1945.9 1486.4 L1947.3 1486.4 L1948.8 1486.3 L1950.2 1486.3 L1951.6 1486.3 L1953 1486.3 L1954.4 1486.2 L1955.8 1486.2 L1957.2 1486.2 L1958.6 1486.2 L1960 1486.1 L1961.4 1486.1 L1962.8 1486.1 L1964.2 1486.1 L1965.6 1486 L1967 1486 L1968.4 1486 L1969.8 1485.9 L1971.2 1485.9 L1972.7 1485.9 L1974.1 1485.8 L1975.5 1485.8 L1976.9 1485.8 L1978.3 1485.7 L1979.7 1485.7 L1981.1 1485.7 L1982.5 1485.6 L1983.9 1485.6 L1985.3 1485.5 L1986.7 1485.5 L1988.1 1485.4 L1989.5 1485.4 L1990.9 1485.4 L1992.3 1485.3 L1993.8 1485.3 L1995.2 1485.2 L1996.6 1485.2 L1998 1485.1 L1999.4 1485.1 L2000.8 1485 L2002.2 1484.9 L2003.6 1484.9 L2005 1484.8 L2006.4 1484.8 L2007.8 1484.7 L2009.2 1484.6 L2010.6 1484.6 L2012 1484.5 L2013.4 1484.4 L2014.8 1484.4 L2016.2 1484.3 L2017.7 1484.2 L2019.1 1484.1 L2020.5 1484.1 L2021.9 1484 L2023.3 1483.9 L2024.7 1483.8 L2026.1 1483.7 L2027.5 1483.6 L2028.9 1483.6 L2030.3 1483.5 L2031.7 1483.4 L2033.1 1483.3 L2034.5 1483.2 L2035.9 1483.1 L2037.3 1483 L2038.8 1482.9 L2040.2 1482.8 L2041.6 1482.7 L2043 1482.6 L2044.4 1482.5 L2045.8 1482.4 L2047.2 1482.3 L2048.6 1482.2 L2050 1482.1 L2051.4 1482 L2052.8 1481.9 L2054.2 1481.8 L2055.6 1481.7 L2057 1481.6 L2058.4 1481.5 L2059.8 1481.4 L2061.2 1481.3 L2062.7 1481.2 L2064.1 1481.1 L2065.5 1481 L2066.9 1480.9 L2068.3 1480.8 L2069.7 1480.7 L2071.1 1480.6 L2072.5 1480.5 L2073.9 1480.4 L2075.3 1480.3 L2076.7 1480.2 L2078.1 1480.1 L2079.5 1480 L2080.9 1479.9 L2082.3 1479.8 L2083.8 1479.7 L2085.2 1479.6 L2086.6 1479.5 L2088 1479.4 L2089.4 1479.3 L2090.8 1479.3 L2092.2 1479.2 L2093.6 1479.1 L2095 1479 L2096.4 1478.9 L2097.8 1478.8 L2099.2 1478.8 L2100.6 1478.7 L2102 1478.6 L2103.4 1478.5 L2104.8 1478.4 L2106.2 1478.4 L2107.7 1478.3 L2109.1 1478.2 L2110.5 1478.2 L2111.9 1478.1 L2113.3 1478 L2114.7 1477.9 L2116.1 1477.9 L2117.5 1477.8 L2118.9 1477.8 L2120.3 1477.7 L2121.7 1477.6 L2123.1 1477.6 L2124.5 1477.5 L2125.9 1477.5 L2127.3 1477.4 L2128.8 1477.3 L2130.2 1477.3 L2131.6 1477.2 L2133 1477.2 L2134.4 1477.1 L2135.8 1477.1 L2137.2 1477.1 L2138.6 1477 L2140 1477 L2141.4 1476.9 L2142.8 1476.9 L2144.2 1476.8 L2145.6 1476.8 L2147 1476.8 L2148.4 1476.7 L2149.8 1476.7 L2151.2 1476.6 L2152.7 1476.6 L2154.1 1476.6 L2155.5 1476.5 L2156.9 1476.5 L2158.3 1476.4 L2159.7 1476.4 L2161.1 1476.4 L2162.5 1476.3 L2163.9 1476.3 L2165.3 1476.2 L2166.7 1476.2 L2168.1 1476.1 L2169.5 1476.1 L2170.9 1476 L2172.3 1476 L2173.8 1475.9 L2175.2 1475.9 L2176.6 1475.8 L2178 1475.8 L2179.4 1475.7 L2180.8 1475.6 L2182.2 1475.6 L2183.6 1475.5 L2185 1475.4 L2186.4 1475.3 L2187.8 1475.3 L2189.2 1475.2 L2190.6 1475.1 L2192 1475 L2193.4 1474.9 L2194.8 1474.8 L2196.2 1474.7 L2197.7 1474.6 L2199.1 1474.5 L2200.5 1474.4 L2201.9 1474.3 L2203.3 1474.1 L2204.7 1474 L2206.1 1473.9 L2207.5 1473.7 L2208.9 1473.6 L2210.3 1473.5 L2211.7 1473.3 L2213.1 1473.2 L2214.5 1473 L2215.9 1472.9 L2217.3 1472.7 L2218.8 1472.6 L2220.2 1472.4 L2221.6 1472.2 L2223 1472 L2224.4 1471.9 L2225.8 1471.7 L2227.2 1471.5 L2228.6 1471.3 L2230 1471.1 L2231.4 1470.9 L2232.8 1470.7 L2234.2 1470.5 L2235.6 1470.3 L2237 1470.1 L2238.4 1469.8 L2239.8 1469.6 L2241.2 1469.4 L2242.7 1469.2 L2244.1 1468.9 L2245.5 1468.7 L2246.9 1468.5 L2248.3 1468.2 L2249.7 1468 L2251.1 1467.7 L2252.5 1467.5 L2253.9 1467.2 L2255.3 1467 L2256.7 1466.7 L2258.1 1466.5 L2259.5 1466.2 L2260.9 1465.9 L2262.3 1465.7 L2263.8 1465.4 L2265.2 1465.2 L2266.6 1464.9 L2268 1464.6 L2269.4 1464.4 L2270.8 1464.1 L2272.2 1463.8 L2273.6 1463.6 L2275 1463.3" fill="none" stroke="#000" stroke-width="4.8" stroke-dasharray="8.5 23.5" stroke-dashoffset="3"/>
<g fill="#000">
<circle cx="250" cy="1521.6" r="10"/>
<circle cx="283.8" cy="1516.5" r="10"/>
<circle cx="317.5" cy="1507.3" r="10"/>
<circle cx="351.2" cy="1490.3" r="10"/>
<circle cx="385" cy="1465.4" r="10"/>
<circle cx="418.8" cy="1431.4" r="10"/>
<circle cx="452.5" cy="1389.5" r="10"/>
<circle cx="486.2" cy="1343.6" r="10"/>
<circle cx="520" cy="1300.6" r="10"/>
<circle cx="553.8" cy="1266.4" r="10"/>
<circle cx="587.5" cy="1248.3" r="10"/>
<circle cx="621.2" cy="1250.1" r="10"/>
<circle cx="655" cy="1269.4" r="10"/>
<circle cx="688.8" cy="1302.7" r="10"/>
<circle cx="722.5" cy="1340.6" r="10"/>
<circle cx="756.2" cy="1379.2" r="10"/>
<circle cx="790" cy="1410.8" r="10"/>
<circle cx="823.8" cy="1436.9" r="10"/>
<circle cx="857.5" cy="1455.8" r="10"/>
<circle cx="891.2" cy="1471.6" r="10"/>
<circle cx="925" cy="1483.3" r="10"/>
<circle cx="958.8" cy="1491.7" r="10"/>
<circle cx="992.5" cy="1496.9" r="10"/>
<circle cx="1026.2" cy="1498.9" r="10"/>
<circle cx="1060" cy="1499.8" r="10"/>
<circle cx="1093.8" cy="1494.9" r="10"/>
<circle cx="1127.5" cy="1492.9" r="10"/>
<circle cx="1161.2" cy="1491.9" r="10"/>
<circle cx="1195" cy="1490.9" r="10"/>
<circle cx="1228.8" cy="1490.9" r="10"/>
<circle cx="1262.5" cy="1491.9" r="10"/>
<circle cx="1296.2" cy="1492.9" r="10"/>
<circle cx="1330" cy="1493.9" r="10"/>
<circle cx="1363.8" cy="1494.9" r="10"/>
<circle cx="1397.5" cy="1496.9" r="10"/>
<circle cx="1431.2" cy="1511.7" r="10"/>
<circle cx="1465" cy="1513.7" r="10"/>
<circle cx="1498.8" cy="1513.7" r="10"/>
<circle cx="1532.5" cy="1511.7" r="10"/>
<circle cx="1566.2" cy="1508.7" r="10"/>
<circle cx="1600" cy="1504.8" r="10"/>
<circle cx="1633.8" cy="1497.9" r="10"/>
<circle cx="1667.5" cy="1494.9" r="10"/>
<circle cx="1701.2" cy="1492.9" r="10"/>
<circle cx="1735" cy="1492.9" r="10"/>
<circle cx="1768.8" cy="1493.9" r="10"/>
<circle cx="1802.5" cy="1494.9" r="10"/>
<circle cx="1836.2" cy="1494.9" r="10"/>
<circle cx="1870" cy="1493.9" r="10"/>
<circle cx="1903.8" cy="1492.9" r="10"/>
<circle cx="1937.5" cy="1491.9" r="10"/>
<circle cx="1971.2" cy="1490.9" r="10"/>
<circle cx="2005" cy="1490.9" r="10"/>
<circle cx="2038.8" cy="1490" r="10"/>
<circle cx="2072.5" cy="1489" r="10"/>
<circle cx="2106.2" cy="1489" r="10"/>
<circle cx="2140" cy="1496.9" r="10"/>
<circle cx="2173.8" cy="1503.8" r="10"/>
<circle cx="2207.5" cy="1510.7" r="10"/>
<circle cx="2241.2" cy="1516.3" r="10"/>
<circle cx="2275" cy="1520.6" r="10"/>
</g>
<g fill="#fff" stroke="#000" stroke-width="1.5">
<circle cx="250" cy="1479.1" r="15.1"/>
<circle cx="283.8" cy="1466.8" r="15.1"/>
<circle cx="317.5" cy="1447.2" r="15.1"/>
<circle cx="351.2" cy="1415" r="15.1"/>
<circle cx="385" cy="1369.6" r="15.1"/>
<circle cx="418.8" cy="1306.7" r="15.1"/>
<circle cx="452.5" cy="1228.4" r="15.1"/>
<circle cx="486.2" cy="1139.8" r="15.1"/>
<circle cx="520" cy="1044.5" r="15.1"/>
<circle cx="553.8" cy="954.4" r="15.1"/>
<circle cx="587.5" cy="882.7" r="15.1"/>
<circle cx="621.2" cy="844.1" r="15.1"/>
<circle cx="655" cy="844.1" r="15.1"/>
<circle cx="688.8" cy="885.7" r="15.1"/>
<circle cx="722.5" cy="961.6" r="15.1"/>
<circle cx="756.2" cy="1056.3" r="15.1"/>
<circle cx="790" cy="1154.5" r="15.1"/>
<circle cx="823.8" cy="1243.7" r="15.1"/>
<circle cx="857.5" cy="1318.5" r="15.1"/>
<circle cx="891.2" cy="1375.5" r="15.1"/>
<circle cx="925" cy="1417.5" r="15.1"/>
<circle cx="958.8" cy="1446.5" r="15.1"/>
<circle cx="992.5" cy="1467" r="15.1"/>
<circle cx="1026.2" cy="1477.7" r="15.1"/>
<circle cx="1060" cy="1483.9" r="15.1"/>
<circle cx="1093.8" cy="1488.1" r="15.1"/>
<circle cx="1127.5" cy="1490" r="15.1"/>
<circle cx="1161.2" cy="1491.3" r="15.1"/>
<circle cx="1195" cy="1492.2" r="15.1"/>
<circle cx="1228.8" cy="1493.5" r="15.1"/>
<circle cx="1262.5" cy="1495.6" r="15.1"/>
<circle cx="1296.2" cy="1498" r="15.1"/>
<circle cx="1330" cy="1498" r="15.1"/>
<circle cx="1363.8" cy="1498.5" r="15.1"/>
<circle cx="1397.5" cy="1499" r="15.1"/>
<circle cx="1431.2" cy="1498.4" r="15.1"/>
<circle cx="1465" cy="1497.9" r="15.1"/>
<circle cx="1498.8" cy="1496.9" r="15.1"/>
<circle cx="1532.5" cy="1496.4" r="15.1"/>
<circle cx="1566.2" cy="1495.4" r="15.1"/>
<circle cx="1600" cy="1494.1" r="15.1"/>
<circle cx="1633.8" cy="1494.1" r="15.1"/>
<circle cx="1667.5" cy="1494.1" r="15.1"/>
<circle cx="1701.2" cy="1494.1" r="15.1"/>
<circle cx="1735" cy="1496.4" r="15.1"/>
<circle cx="1768.8" cy="1498.3" r="15.1"/>
<circle cx="1802.5" cy="1500.3" r="15.1"/>
<circle cx="1836.2" cy="1500.3" r="15.1"/>
<circle cx="1870" cy="1500.9" r="15.1"/>
<circle cx="1903.8" cy="1499.4" r="15.1"/>
<circle cx="1937.5" cy="1497.6" r="15.1"/>
<circle cx="1971.2" cy="1494.9" r="15.1"/>
<circle cx="2005" cy="1493" r="15.1"/>
<circle cx="2038.8" cy="1489.5" r="15.1"/>
<circle cx="2072.5" cy="1488" r="15.1"/>
<circle cx="2106.2" cy="1485.5" r="15.1"/>
<circle cx="2140" cy="1485.5" r="15.1"/>
<circle cx="2173.8" cy="1485.5" r="15.1"/>
<circle cx="2207.5" cy="1485.5" r="15.1"/>
<circle cx="2241.2" cy="1485.5" r="15.1"/>
<circle cx="2275" cy="1484.5" r="15.1"/>
</g>
<g fill="#fff" stroke="#000" stroke-width="1.55" stroke-linejoin="miter">
<path d="M250 1459.1L267.8 1491.1L232.2 1491.1ZM230.2 1491.1H269.8"/>
<path d="M283.8 1446.8L301.6 1478.8L265.9 1478.8ZM263.9 1478.8H303.6"/>
<path d="M317.5 1427.2L335.3 1459.2L299.7 1459.2ZM297.7 1459.2H337.3"/>
<path d="M351.2 1395L369.1 1427L333.4 1427ZM331.4 1427H371.1"/>
<path d="M385 1349.6L402.8 1381.6L367.2 1381.6ZM365.2 1381.6H404.8"/>
<path d="M418.8 1288.7L436.6 1320.7L400.9 1320.7ZM398.9 1320.7H438.6"/>
<path d="M452.5 1211.9L470.3 1243.9L434.7 1243.9ZM432.7 1243.9H472.3"/>
<path d="M486.2 1123.5L504.1 1155.5L468.4 1155.5ZM466.4 1155.5H506.1"/>
<path d="M520 1028.5L537.8 1060.5L502.2 1060.5ZM500.2 1060.5H539.8"/>
<path d="M553.8 938.9L571.5 970.9L536 970.9ZM534 970.9H573.5"/>
<path d="M587.5 867.7L605.3 899.7L569.7 899.7ZM567.7 899.7H607.3"/>
<path d="M621.2 829.1L639 861.1L603.5 861.1ZM601.5 861.1H641"/>
<path d="M655 829.1L672.8 861.1L637.2 861.1ZM635.2 861.1H674.8"/>
<path d="M688.8 870.7L706.5 902.7L671 902.7ZM669 902.7H708.5"/>
<path d="M722.5 945.8L740.3 977.8L704.7 977.8ZM702.7 977.8H742.3"/>
<path d="M756.2 1039.8L774 1071.8L738.5 1071.8ZM736.5 1071.8H776"/>
<path d="M790 1136.7L807.8 1168.7L772.2 1168.7ZM770.2 1168.7H809.8"/>
<path d="M823.8 1224.7L841.5 1256.7L806 1256.7ZM804 1256.7H843.5"/>
<path d="M857.5 1299.3L875.3 1331.3L839.7 1331.3ZM837.7 1331.3H877.3"/>
<path d="M891.2 1356L909 1388L873.5 1388ZM871.5 1388H911"/>
<path d="M925 1398L942.8 1430L907.2 1430ZM905.2 1430H944.8"/>
<path d="M958.8 1427L976.5 1459L941 1459ZM939 1459H978.5"/>
<path d="M992.5 1447.5L1010.3 1479.5L974.7 1479.5ZM972.7 1479.5H1012.3"/>
<path d="M1026.2 1458.2L1044 1490.2L1008.5 1490.2ZM1006.5 1490.2H1046"/>
<path d="M1060 1464.4L1077.8 1496.4L1042.2 1496.4ZM1040.2 1496.4H1079.8"/>
<path d="M1093.8 1468.6L1111.5 1500.6L1076 1500.6ZM1074 1500.6H1113.5"/>
<path d="M1127.5 1470.5L1145.3 1502.5L1109.7 1502.5ZM1107.7 1502.5H1147.3"/>
<path d="M1161.2 1471.8L1179 1503.8L1143.5 1503.8ZM1141.5 1503.8H1181"/>
<path d="M1195 1472.7L1212.8 1504.7L1177.2 1504.7ZM1175.2 1504.7H1214.8"/>
<path d="M1228.8 1474L1246.5 1506L1211 1506ZM1209 1506H1248.5"/>
<path d="M1262.5 1476.1L1280.3 1508.1L1244.7 1508.1ZM1242.7 1508.1H1282.3"/>
<path d="M1296.2 1478.5L1314 1510.5L1278.5 1510.5ZM1276.5 1510.5H1316"/>
<path d="M1330 1478.5L1347.8 1510.5L1312.2 1510.5ZM1310.2 1510.5H1349.8"/>
<path d="M1363.8 1479L1381.5 1511L1346 1511ZM1344 1511H1383.5"/>
<path d="M1397.5 1479.5L1415.3 1511.5L1379.7 1511.5ZM1377.7 1511.5H1417.3"/>
<path d="M1431.2 1478.9L1449 1510.9L1413.5 1510.9ZM1411.5 1510.9H1451"/>
<path d="M1465 1478.4L1482.8 1510.4L1447.2 1510.4ZM1445.2 1510.4H1484.8"/>
<path d="M1498.8 1477.4L1516.5 1509.4L1481 1509.4ZM1479 1509.4H1518.5"/>
<path d="M1532.5 1476.9L1550.3 1508.9L1514.7 1508.9ZM1512.7 1508.9H1552.3"/>
<path d="M1566.2 1475.9L1584 1507.9L1548.5 1507.9ZM1546.5 1507.9H1586"/>
<path d="M1600 1474.6L1617.8 1506.6L1582.2 1506.6ZM1580.2 1506.6H1619.8"/>
<path d="M1633.8 1474.6L1651.5 1506.6L1616 1506.6ZM1614 1506.6H1653.5"/>
<path d="M1667.5 1474.6L1685.3 1506.6L1649.7 1506.6ZM1647.7 1506.6H1687.3"/>
<path d="M1701.2 1474.6L1719 1506.6L1683.5 1506.6ZM1681.5 1506.6H1721"/>
<path d="M1735 1476.9L1752.8 1508.9L1717.2 1508.9ZM1715.2 1508.9H1754.8"/>
<path d="M1768.8 1478.8L1786.5 1510.8L1751 1510.8ZM1749 1510.8H1788.5"/>
<path d="M1802.5 1480.8L1820.3 1512.8L1784.7 1512.8ZM1782.7 1512.8H1822.3"/>
<path d="M1836.2 1480.8L1854 1512.8L1818.5 1512.8ZM1816.5 1512.8H1856"/>
<path d="M1870 1481.4L1887.8 1513.4L1852.2 1513.4ZM1850.2 1513.4H1889.8"/>
<path d="M1903.8 1479.9L1921.5 1511.9L1886 1511.9ZM1884 1511.9H1923.5"/>
<path d="M1937.5 1478.1L1955.3 1510.1L1919.7 1510.1ZM1917.7 1510.1H1957.3"/>
<path d="M1971.2 1475.4L1989 1507.4L1953.5 1507.4ZM1951.5 1507.4H1991"/>
<path d="M2005 1473.5L2022.8 1505.5L1987.2 1505.5ZM1985.2 1505.5H2024.8"/>
<path d="M2038.8 1470L2056.6 1502L2021 1502ZM2019 1502H2058.6"/>
<path d="M2072.5 1468.5L2090.3 1500.5L2054.7 1500.5ZM2052.7 1500.5H2092.3"/>
<path d="M2106.2 1466L2124.1 1498L2088.4 1498ZM2086.4 1498H2126.1"/>
<path d="M2140 1466L2157.8 1498L2122.2 1498ZM2120.2 1498H2159.8"/>
<path d="M2173.8 1466L2191.6 1498L2155.9 1498ZM2153.9 1498H2193.6"/>
<path d="M2207.5 1466L2225.3 1498L2189.7 1498ZM2187.7 1498H2227.3"/>
<path d="M2241.2 1466L2259.1 1498L2223.4 1498ZM2221.4 1498H2261.1"/>
<path d="M2275 1465L2292.8 1497L2257.2 1497ZM2255.2 1497H2294.8"/>
</g>
</g>
<text transform="translate(134.9 1543.5) scale(1 1.05)" font-size="58.3">0.0</text>
<text transform="translate(135.5 1444.6) scale(1 1.05)" font-size="58.3">0.1</text>
<text transform="translate(135.6 1345.7) scale(1 1.05)" font-size="58.3">0.2</text>
<text transform="translate(135.2 1246.8) scale(1 1.05)" font-size="58.3">0.3</text>
<text transform="translate(134.4 1147.9) scale(1 1.05)" font-size="58.3">0.4</text>
<text transform="translate(135.1 1049) scale(1 1.05)" font-size="58.3">0.5</text>
<text transform="translate(135.2 950.1) scale(1 1.05)" font-size="58.3">0.6</text>
<text transform="translate(135.6 851.2) scale(1 1.05)" font-size="58.3">0.7</text>
<text transform="translate(135.2 752.3) scale(1 1.05)" font-size="58.3">0.8</text>
<text transform="translate(135.4 653.4) scale(1 1.05)" font-size="58.3">0.9</text>
<text transform="translate(134.9 554.5) scale(1 1.05)" font-size="58.3">1.0</text>
<text transform="translate(135.5 455.6) scale(1 1.05)" font-size="58.3">1.1</text>
<text transform="translate(135.6 356.7) scale(1 1.05)" font-size="58.3">1.2</text>
<text transform="translate(135.2 257.8) scale(1 1.05)" font-size="58.3">1.3</text>
<text transform="translate(134.4 158.9) scale(1 1.05)" font-size="58.3">1.4</text>
<text transform="translate(135.1 60) scale(1 1.05)" font-size="58.3">1.5</text>
<text transform="translate(233.2 1608) scale(1 1.03)" font-size="59.5">0</text>
<text transform="translate(553.8 1608) scale(1 1.03)" font-size="59.5">60</text>
<text transform="translate(874 1608) scale(1 1.03)" font-size="59.5">120</text>
<text transform="translate(1211.5 1608) scale(1 1.03)" font-size="59.5">180</text>
<text transform="translate(1549.7 1608) scale(1 1.03)" font-size="59.5">240</text>
<text transform="translate(1887.6 1608) scale(1 1.03)" font-size="59.5">300</text>
<text transform="translate(2225.1 1608) scale(1 1.03)" font-size="59.5">360</text>
<text transform="translate(701.3 1731.3) scale(1 1.03)" font-size="72" textLength="755.2" lengthAdjust="spacing" stroke="#fff" stroke-width="1.1">Ejected Electron Angle</text>
<text class="sy" transform="translate(1479.5 1730.5) scale(1.12 1)" font-size="64">&#952;</text>
<text x="1514" y="1758.6" font-size="42">2</text>
<text transform="translate(1538.4 1731.3) scale(1 1.03)" font-size="72" textLength="283.1" lengthAdjust="spacing" stroke="#fff" stroke-width="1.1">(degree)</text>
<text transform="translate(79 1034.7) rotate(-90)" font-size="74.5" textLength="397.6" lengthAdjust="spacing" stroke="#fff" stroke-width="1.1">TDCS (a.u.)</text>
<text transform="translate(290.6 126.6) scale(1 1.03)" font-size="55.5" textLength="36.7" lengthAdjust="spacing">E</text>
<text x="330.3" y="147.6" font-size="34.5" textLength="15.2" lengthAdjust="spacing">1</text>
<text transform="translate(349 122.9) scale(1 0.9067)" font-size="56.81">=</text>
<text transform="translate(397.5 126.6) scale(1 1.03)" font-size="55.5" textLength="178" lengthAdjust="spacing">500 eV</text>
<text transform="translate(290.6 215.9) scale(1 1.03)" font-size="55.5" textLength="36.7" lengthAdjust="spacing">E</text>
<text x="329.1" y="236.8" font-size="34.5" textLength="20.2" lengthAdjust="spacing">2</text>
<text transform="translate(349 212.2) scale(1 0.9067)" font-size="56.81">=</text>
<text transform="translate(398.3 215.9) scale(1 1.03)" font-size="55.5" textLength="146" lengthAdjust="spacing">37 eV</text>
<text class="sy" transform="translate(291.3 317.3) scale(1.05 1)" font-size="52">&#952;</text>
<text class="sy" x="319.6" y="338.4" font-size="29">1</text>
<text transform="translate(333.1 314.3) scale(1 0.9533)" font-size="55.99">=</text>
<text transform="translate(381.3 317.3) scale(1 1.03)" font-size="55.5" textLength="51.6" lengthAdjust="spacing">-6</text>
<text x="432.8" y="285.8" font-size="34.5" textLength="19" lengthAdjust="spacing">0</text>
<text x="738.9" y="143.4" font-size="53.5" textLength="16.7" lengthAdjust="spacing">(</text>
<text transform="translate(757.3 144.7) scale(1 1.05)" font-size="56" textLength="31.5" lengthAdjust="spacing">3</text>
<text class="sy" transform="translate(789 144.7) scale(1.08 1)" font-size="50">&#963;</text>
<text x="820" y="166.9" font-size="34.5" textLength="20" lengthAdjust="spacing">g</text>
<text x="838.8" y="144.7" font-size="56" textLength="17.9" lengthAdjust="spacing">,</text>
<text transform="translate(872.6 144.7) scale(1 1.03)" font-size="56" textLength="23.3" lengthAdjust="spacing">1</text>
<text class="sy" transform="translate(904.5 144.7) scale(1.05 1)" font-size="50">&#960;</text>
<text x="929.3" y="166.9" font-size="34.5" textLength="19.2" lengthAdjust="spacing">u</text>
<text x="949" y="144.7" font-size="56" textLength="17.8" lengthAdjust="spacing">,</text>
<text transform="translate(980.1 144.7) scale(1 1.03)" font-size="56" textLength="32.6" lengthAdjust="spacing">2</text>
<text class="sy" transform="translate(1013.4 144.7) scale(1.08 1)" font-size="50">&#963;</text>
<text x="1043.6" y="166.9" font-size="34.5" textLength="18.3" lengthAdjust="spacing">u</text>
<text x="1066.7" y="143.4" font-size="53.5" textLength="17.4" lengthAdjust="spacing">)</text>
<text x="1285" y="140.8" font-size="50.2" textLength="964.2" lengthAdjust="spacing">Experiment [Lahmam-Bennani et.al.(2009)]</text>
<text x="1285" y="202.2" font-size="50.2" textLength="369.3" lengthAdjust="spacing">DWBA(average)</text>
<text x="1285" y="263.7" font-size="50.2" textLength="690.9" lengthAdjust="spacing">DWBA + Polarisation(average)</text>
<text x="1285" y="325.2" font-size="50.2" textLength="830.5" lengthAdjust="spacing">DWBA + Polarisation + PCI(average)</text>
<text x="1285" y="386.6" font-size="50.2" textLength="399.2" lengthAdjust="spacing">DWBA(Weighted)</text>
<text x="1285" y="448.1" font-size="50.2" textLength="722.1" lengthAdjust="spacing">DWBA + Polarisation(Weighted)</text>
<text x="1285" y="509.5" font-size="50.2" textLength="864.1" lengthAdjust="spacing">DWBA + Polarisation + PCI(Weighted)</text>
<circle cx="1214.9" cy="122.9" r="18.6" fill="#fe0000"/>
<path d="M1161 185.6H1273" stroke="#000" stroke-width="9.5" stroke-linecap="round"/>
<path d="M1158.3 247H1186.2M1210.9 247H1240.4M1265.2 247H1275.7" stroke="#000" stroke-width="5.4"/>
<path d="M1158.3 308.2h8.5M1190 308.2h8.5M1221.1 308.2h8.5M1254.4 308.2h8.5" stroke="#000" stroke-width="5.4"/>
<circle cx="1216" cy="369.4" r="10.2" fill="#000"/>
<circle cx="1214.8" cy="431.5" r="15.8" fill="#fff" stroke="#000" stroke-width="1.6"/>
<path d="M1216.7 472.3L1234.4 504.2L1199 504.2ZM1196.9 504.2H1236.7" fill="#fff" stroke="#000" stroke-width="1.6"/>
</svg></body></html>
